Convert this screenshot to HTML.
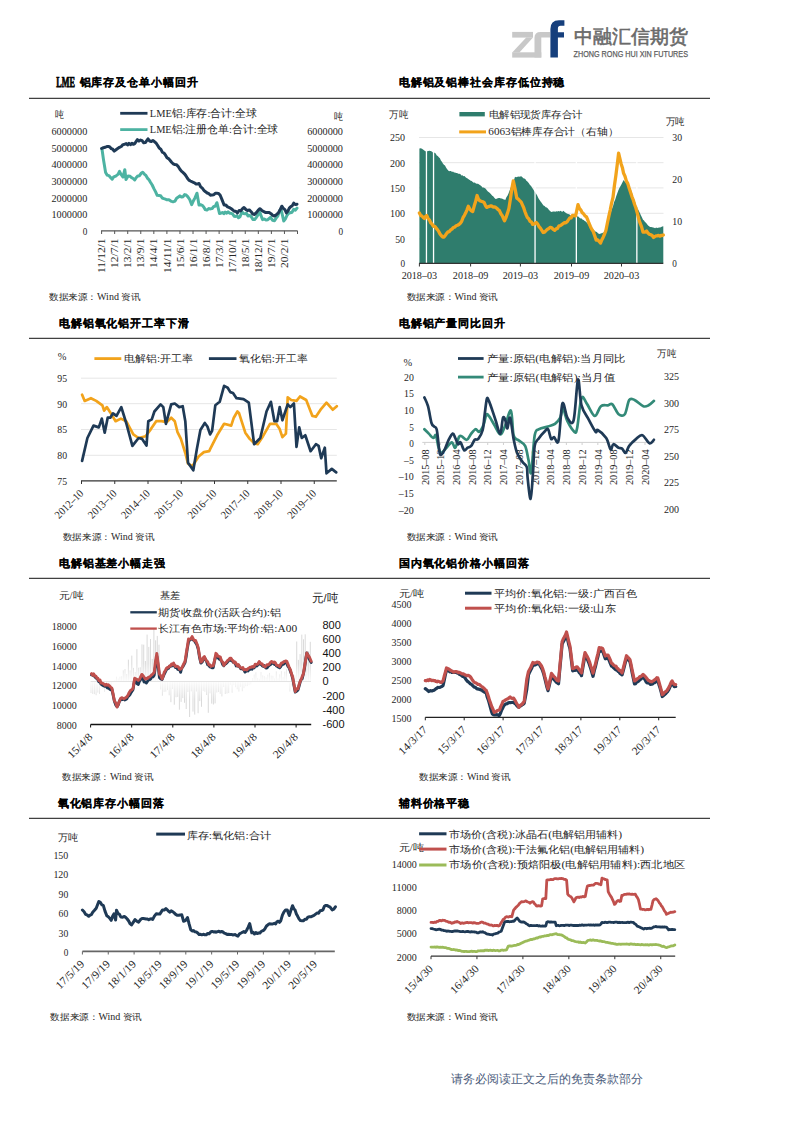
<!DOCTYPE html><html><head><meta charset="utf-8"><style>html,body{margin:0;padding:0;background:#fff;width:793px;height:1122px;overflow:hidden}svg{display:block}</style></head><body>
<svg width="793" height="1122" viewBox="0 0 793 1122">
<rect width="793" height="1122" fill="#fff"/>
<rect x="512.2" y="31.9" width="20.8" height="5.7" fill="#c8c8c8"/>
<path d="M526.2 37.4 L533 37.4 L519.4 52.5 L512.2 52.5 Z" fill="#c8c8c8"/>
<rect x="512.2" y="52.3" width="29.1" height="5.3" fill="#c8c8c8"/>
<path d="M534.5 57.6 V37.5 Q534.5 31.9 540.5 31.9 H550 V37.6 H541.3 V57.6 Z" fill="#c8c8c8"/>
<path d="M550.4 57.6 V29 Q550.4 20.2 559 20.2 H564.4 V25.8 H560.5 Q557.9 25.8 557.9 28.5 V32.3 H564 V37.6 H557.9 V57.6 Z" fill="#163f7c"/>
<text x="573.5" y="43.4" font-family="Liberation Sans, sans-serif" font-size="18.5" fill="#6a6a6a" stroke="#6a6a6a" stroke-width="0.6" textLength="114" lengthAdjust="spacingAndGlyphs">中融汇信期货</text>
<text x="573.5" y="56.9" font-family="Liberation Sans, sans-serif" font-size="8.8" fill="#5e5e5e" textLength="114.5" lengthAdjust="spacingAndGlyphs" stroke="#5e5e5e" stroke-width="0.25">ZHONG RONG HUI XIN FUTURES</text>
<line x1="29" y1="98.3" x2="710" y2="98.3" stroke="#404040" stroke-width="1.3"/>
<line x1="29" y1="338.4" x2="710" y2="338.4" stroke="#404040" stroke-width="1.3"/>
<line x1="29" y1="578.4" x2="710" y2="578.4" stroke="#404040" stroke-width="1.3"/>
<line x1="29" y1="818.4" x2="710" y2="818.4" stroke="#404040" stroke-width="1.3"/>
<text x="56.3" y="87.4" font-family="Liberation Serif, serif" font-size="14" fill="#000" textLength="18.6" lengthAdjust="spacingAndGlyphs" font-weight="bold" stroke="#000" stroke-width="0.75">LME</text>
<text x="79.5" y="86.4" font-family="Liberation Sans, sans-serif" font-size="11.3" font-weight="bold" fill="#000" stroke="#000" stroke-width="0.12" textLength="118.0" lengthAdjust="spacing">铝库存及仓单小幅回升</text>
<text x="64.0" y="117.9" font-family="Liberation Serif, serif" font-size="10" fill="#262626" text-anchor="end" textLength="9" lengthAdjust="spacingAndGlyphs">吨</text>
<text x="342.5" y="120.3" font-family="Liberation Serif, serif" font-size="10" fill="#262626" text-anchor="end" textLength="9" lengthAdjust="spacingAndGlyphs">吨</text>
<text x="87.3" y="134.8" font-family="Liberation Serif, serif" font-size="11.13" fill="#262626" text-anchor="end" textLength="35.8" lengthAdjust="spacingAndGlyphs">6000000</text>
<text x="343.0" y="134.8" font-family="Liberation Serif, serif" font-size="11.13" fill="#262626" text-anchor="end" textLength="35.8" lengthAdjust="spacingAndGlyphs">6000000</text>
<text x="87.3" y="151.5" font-family="Liberation Serif, serif" font-size="11.13" fill="#262626" text-anchor="end" textLength="35.8" lengthAdjust="spacingAndGlyphs">5000000</text>
<text x="343.0" y="151.5" font-family="Liberation Serif, serif" font-size="11.13" fill="#262626" text-anchor="end" textLength="35.8" lengthAdjust="spacingAndGlyphs">5000000</text>
<text x="87.3" y="168.1" font-family="Liberation Serif, serif" font-size="11.13" fill="#262626" text-anchor="end" textLength="35.8" lengthAdjust="spacingAndGlyphs">4000000</text>
<text x="343.0" y="168.1" font-family="Liberation Serif, serif" font-size="11.13" fill="#262626" text-anchor="end" textLength="35.8" lengthAdjust="spacingAndGlyphs">4000000</text>
<text x="87.3" y="184.8" font-family="Liberation Serif, serif" font-size="11.13" fill="#262626" text-anchor="end" textLength="35.8" lengthAdjust="spacingAndGlyphs">3000000</text>
<text x="343.0" y="184.8" font-family="Liberation Serif, serif" font-size="11.13" fill="#262626" text-anchor="end" textLength="35.8" lengthAdjust="spacingAndGlyphs">3000000</text>
<text x="87.3" y="201.5" font-family="Liberation Serif, serif" font-size="11.13" fill="#262626" text-anchor="end" textLength="35.8" lengthAdjust="spacingAndGlyphs">2000000</text>
<text x="343.0" y="201.5" font-family="Liberation Serif, serif" font-size="11.13" fill="#262626" text-anchor="end" textLength="35.8" lengthAdjust="spacingAndGlyphs">2000000</text>
<text x="87.3" y="218.1" font-family="Liberation Serif, serif" font-size="11.13" fill="#262626" text-anchor="end" textLength="35.8" lengthAdjust="spacingAndGlyphs">1000000</text>
<text x="343.0" y="218.1" font-family="Liberation Serif, serif" font-size="11.13" fill="#262626" text-anchor="end" textLength="35.8" lengthAdjust="spacingAndGlyphs">1000000</text>
<text x="87.3" y="234.8" font-family="Liberation Serif, serif" font-size="11.13" fill="#262626" text-anchor="end" textLength="4.6" lengthAdjust="spacingAndGlyphs">0</text>
<text x="343.0" y="234.8" font-family="Liberation Serif, serif" font-size="11.13" fill="#262626" text-anchor="end" textLength="4.6" lengthAdjust="spacingAndGlyphs">0</text>
<line x1="120.2" y1="113.3" x2="147.5" y2="113.3" stroke="#1f3a56" stroke-width="2.8"/>
<line x1="120.2" y1="129.6" x2="147.5" y2="129.6" stroke="#4db3a2" stroke-width="2.8"/>
<text x="149.8" y="117.0" font-family="Liberation Serif, serif" font-size="10.5" fill="#262626" textLength="107" lengthAdjust="spacingAndGlyphs">LME铝:库存:合计:全球</text>
<text x="149.8" y="133.2" font-family="Liberation Serif, serif" font-size="10.5" fill="#262626" textLength="128.5" lengthAdjust="spacingAndGlyphs">LME铝:注册仓单:合计:全球</text>
<line x1="101.1" y1="230.8" x2="297.5" y2="230.8" stroke="#555" stroke-width="1.3"/>
<line x1="101.6" y1="230.8" x2="101.6" y2="234" stroke="#555" stroke-width="1"/>
<line x1="114.66" y1="230.8" x2="114.66" y2="234" stroke="#555" stroke-width="1"/>
<line x1="127.72" y1="230.8" x2="127.72" y2="234" stroke="#555" stroke-width="1"/>
<line x1="140.78" y1="230.8" x2="140.78" y2="234" stroke="#555" stroke-width="1"/>
<line x1="153.84" y1="230.8" x2="153.84" y2="234" stroke="#555" stroke-width="1"/>
<line x1="166.89999999999998" y1="230.8" x2="166.89999999999998" y2="234" stroke="#555" stroke-width="1"/>
<line x1="179.95999999999998" y1="230.8" x2="179.95999999999998" y2="234" stroke="#555" stroke-width="1"/>
<line x1="193.01999999999998" y1="230.8" x2="193.01999999999998" y2="234" stroke="#555" stroke-width="1"/>
<line x1="206.07999999999998" y1="230.8" x2="206.07999999999998" y2="234" stroke="#555" stroke-width="1"/>
<line x1="219.14" y1="230.8" x2="219.14" y2="234" stroke="#555" stroke-width="1"/>
<line x1="232.2" y1="230.8" x2="232.2" y2="234" stroke="#555" stroke-width="1"/>
<line x1="245.26" y1="230.8" x2="245.26" y2="234" stroke="#555" stroke-width="1"/>
<line x1="258.32" y1="230.8" x2="258.32" y2="234" stroke="#555" stroke-width="1"/>
<line x1="271.38" y1="230.8" x2="271.38" y2="234" stroke="#555" stroke-width="1"/>
<line x1="284.44" y1="230.8" x2="284.44" y2="234" stroke="#555" stroke-width="1"/>
<line x1="297.5" y1="230.8" x2="297.5" y2="234" stroke="#555" stroke-width="1"/>
<text x="101.6" y="238.5" font-family="Liberation Serif, serif" font-size="10.70" fill="#262626" text-anchor="end" textLength="34.4" lengthAdjust="spacingAndGlyphs" transform="rotate(-90 101.6 238.5) translate(0 3.64)">11/12/1</text>
<text x="114.7" y="238.5" font-family="Liberation Serif, serif" font-size="10.70" fill="#262626" text-anchor="end" textLength="29.4" lengthAdjust="spacingAndGlyphs" transform="rotate(-90 114.7 238.5) translate(0 3.64)">12/7/1</text>
<text x="127.7" y="238.5" font-family="Liberation Serif, serif" font-size="10.70" fill="#262626" text-anchor="end" textLength="29.4" lengthAdjust="spacingAndGlyphs" transform="rotate(-90 127.7 238.5) translate(0 3.64)">13/2/1</text>
<text x="140.8" y="238.5" font-family="Liberation Serif, serif" font-size="10.70" fill="#262626" text-anchor="end" textLength="29.4" lengthAdjust="spacingAndGlyphs" transform="rotate(-90 140.8 238.5) translate(0 3.64)">13/9/1</text>
<text x="153.8" y="238.5" font-family="Liberation Serif, serif" font-size="10.70" fill="#262626" text-anchor="end" textLength="29.4" lengthAdjust="spacingAndGlyphs" transform="rotate(-90 153.8 238.5) translate(0 3.64)">14/4/1</text>
<text x="166.9" y="238.5" font-family="Liberation Serif, serif" font-size="10.70" fill="#262626" text-anchor="end" textLength="34.4" lengthAdjust="spacingAndGlyphs" transform="rotate(-90 166.9 238.5) translate(0 3.64)">14/11/1</text>
<text x="180.0" y="238.5" font-family="Liberation Serif, serif" font-size="10.70" fill="#262626" text-anchor="end" textLength="29.4" lengthAdjust="spacingAndGlyphs" transform="rotate(-90 180.0 238.5) translate(0 3.64)">15/6/1</text>
<text x="193.0" y="238.5" font-family="Liberation Serif, serif" font-size="10.70" fill="#262626" text-anchor="end" textLength="29.4" lengthAdjust="spacingAndGlyphs" transform="rotate(-90 193.0 238.5) translate(0 3.64)">16/1/1</text>
<text x="206.1" y="238.5" font-family="Liberation Serif, serif" font-size="10.70" fill="#262626" text-anchor="end" textLength="29.4" lengthAdjust="spacingAndGlyphs" transform="rotate(-90 206.1 238.5) translate(0 3.64)">16/8/1</text>
<text x="219.1" y="238.5" font-family="Liberation Serif, serif" font-size="10.70" fill="#262626" text-anchor="end" textLength="29.4" lengthAdjust="spacingAndGlyphs" transform="rotate(-90 219.1 238.5) translate(0 3.64)">17/3/1</text>
<text x="232.2" y="238.5" font-family="Liberation Serif, serif" font-size="10.70" fill="#262626" text-anchor="end" textLength="34.4" lengthAdjust="spacingAndGlyphs" transform="rotate(-90 232.2 238.5) translate(0 3.64)">17/10/1</text>
<text x="245.3" y="238.5" font-family="Liberation Serif, serif" font-size="10.70" fill="#262626" text-anchor="end" textLength="29.4" lengthAdjust="spacingAndGlyphs" transform="rotate(-90 245.3 238.5) translate(0 3.64)">18/5/1</text>
<text x="258.3" y="238.5" font-family="Liberation Serif, serif" font-size="10.70" fill="#262626" text-anchor="end" textLength="34.4" lengthAdjust="spacingAndGlyphs" transform="rotate(-90 258.3 238.5) translate(0 3.64)">18/12/1</text>
<text x="271.4" y="238.5" font-family="Liberation Serif, serif" font-size="10.70" fill="#262626" text-anchor="end" textLength="29.4" lengthAdjust="spacingAndGlyphs" transform="rotate(-90 271.4 238.5) translate(0 3.64)">19/7/1</text>
<text x="284.4" y="238.5" font-family="Liberation Serif, serif" font-size="10.70" fill="#262626" text-anchor="end" textLength="29.4" lengthAdjust="spacingAndGlyphs" transform="rotate(-90 284.4 238.5) translate(0 3.64)">20/2/1</text>
<polyline points="101.9,148.5 103.6,160.4 105.6,172.5 107.2,175.1 108.9,175.6 110.5,177.4 112.2,179.2 113.7,176.9 115.1,176.4 116.6,175.4 118.0,174.4 119.5,171.4 121.2,174.7 123.0,177.0 124.8,169.7 126.0,179.5 128.1,175.9 130.1,176.2 131.6,177.7 133.2,178.5 134.7,180.0 136.3,177.5 137.9,175.9 139.5,175.7 141.1,173.3 142.7,172.3 144.3,174.1 145.9,175.4 147.4,178.1 149.0,179.8 150.6,182.5 152.2,185.0 153.9,188.6 155.5,191.6 157.2,195.3 158.9,195.4 160.6,195.7 162.2,198.0 163.9,198.7 165.4,199.2 167.0,199.8 168.5,199.7 170.0,200.4 171.6,201.4 173.1,201.8 174.9,201.2 176.6,198.2 178.4,197.0 179.9,195.8 181.5,197.1 183.1,196.7 184.6,194.6 186.1,195.0 187.7,196.6 189.7,199.5 191.7,204.7 193.3,201.0 195.0,197.9 197.0,193.2 199.0,204.9 200.6,204.7 202.2,205.3 203.7,207.0 205.3,209.6 206.9,210.1 208.7,208.6 210.4,208.9 212.2,208.5 213.8,206.4 215.3,206.2 216.9,202.7 219.5,213.5 220.9,213.2 222.4,212.5 223.8,213.7 225.2,212.1 226.7,213.2 228.1,211.9 229.6,213.2 231.1,213.3 232.6,214.0 234.1,216.2 235.5,216.4 237.0,215.8 238.5,217.7 240.0,216.7 242.0,211.8 243.5,213.6 245.0,213.8 246.5,213.2 248.0,216.0 249.7,215.4 251.3,216.8 252.9,219.4 254.6,219.6 256.4,217.3 258.1,214.6 259.9,212.4 262.5,219.6 264.3,219.0 266.0,220.0 267.8,219.7 270.5,217.3 272.5,220.2 274.5,220.7 276.1,218.1 277.8,216.0 279.4,211.5 281.0,208.7 283.7,221.0 285.4,218.8 287.0,215.4 288.7,213.3 290.4,212.7 292.0,212.2 293.7,209.4 295.4,210.2 297.0,208.1" fill="none" stroke="#4db3a2" stroke-width="3.0" stroke-linejoin="round" stroke-linecap="round"/>
<polyline points="101.6,148.5 103.4,147.7 105.1,147.3 106.9,146.5 108.4,146.4 109.8,147.0 111.3,148.6 112.7,149.2 114.2,151.1 116.0,149.7 117.7,148.5 119.5,147.3 121.3,146.5 123.0,144.6 124.8,144.2 126.2,143.6 127.6,144.9 129.0,143.3 130.5,144.6 131.9,143.2 133.3,144.3 134.7,143.6 137.4,139.7 139.0,141.1 140.6,140.1 142.1,140.7 143.7,142.8 145.3,142.6 148.0,138.8 149.7,141.0 151.3,141.5 152.9,140.6 154.6,141.8 156.2,143.2 157.7,145.5 159.2,148.1 160.8,149.2 162.3,152.2 163.9,153.0 165.4,154.9 167.0,157.7 168.5,158.6 170.0,160.3 171.6,162.3 173.1,163.8 174.9,164.5 176.6,164.7 178.4,166.8 179.9,169.2 181.4,171.1 182.9,172.4 184.4,173.8 185.9,175.7 187.4,178.2 188.9,180.1 190.4,181.0 191.8,181.7 193.3,182.3 194.7,183.0 196.1,184.0 197.6,183.9 199.0,183.5 200.7,186.9 202.3,188.2 203.9,190.3 205.6,191.8 207.2,193.0 208.9,193.7 210.5,195.3 212.2,194.9 213.8,194.8 215.3,193.2 216.9,193.3 218.6,193.4 220.2,195.2 222.1,199.9 224.1,205.0 225.9,205.1 227.6,206.9 229.4,207.6 231.0,208.5 232.6,209.7 234.2,211.3 235.8,211.3 237.4,212.9 239.1,210.5 240.7,210.9 242.3,208.9 244.0,207.5 245.8,209.4 247.5,210.6 249.3,209.9 251.1,211.7 252.8,214.0 254.6,214.5 256.4,212.6 258.1,210.4 259.9,208.7 261.9,210.4 263.9,211.7 265.7,212.6 267.4,212.5 269.2,212.5 271.0,213.7 272.7,215.3 274.5,216.0 276.4,214.7 278.4,212.9 280.1,209.8 281.8,206.2 283.3,208.4 284.9,209.7 286.4,212.9 287.9,211.1 289.3,208.1 290.8,206.6 292.2,205.9 293.7,203.1 295.4,204.6 297.0,204.2" fill="none" stroke="#1f3a56" stroke-width="3.0" stroke-linejoin="round" stroke-linecap="round"/>
<text x="49.1" y="299.9" font-family="Liberation Serif, serif" font-size="9.4" fill="#262626" textLength="91.5" lengthAdjust="spacingAndGlyphs">数据来源：Wind 资讯</text>
<text x="398.8" y="86.4" font-family="Liberation Sans, sans-serif" font-size="11.3" font-weight="bold" fill="#000" stroke="#000" stroke-width="0.12" textLength="165.6" lengthAdjust="spacing">电解铝及铝棒社会库存低位持稳</text>
<text x="408.3" y="118.3" font-family="Liberation Serif, serif" font-size="10" fill="#262626" text-anchor="end" textLength="19" lengthAdjust="spacingAndGlyphs">万吨</text>
<text x="684.9" y="125.1" font-family="Liberation Serif, serif" font-size="10" fill="#262626" text-anchor="end" textLength="19" lengthAdjust="spacingAndGlyphs">万吨</text>
<text x="405.0" y="141.3" font-family="Liberation Serif, serif" font-size="11.13" fill="#262626" text-anchor="end" textLength="15.0" lengthAdjust="spacingAndGlyphs">250</text>
<line x1="419" y1="137.5" x2="663.5" y2="137.5" stroke="#e6e6e6" stroke-width="1"/>
<text x="405.0" y="166.5" font-family="Liberation Serif, serif" font-size="11.13" fill="#262626" text-anchor="end" textLength="15.0" lengthAdjust="spacingAndGlyphs">200</text>
<line x1="419" y1="162.7" x2="663.5" y2="162.7" stroke="#e6e6e6" stroke-width="1"/>
<text x="405.0" y="191.7" font-family="Liberation Serif, serif" font-size="11.13" fill="#262626" text-anchor="end" textLength="15.0" lengthAdjust="spacingAndGlyphs">150</text>
<line x1="419" y1="187.9" x2="663.5" y2="187.9" stroke="#e6e6e6" stroke-width="1"/>
<text x="405.0" y="217.1" font-family="Liberation Serif, serif" font-size="11.13" fill="#262626" text-anchor="end" textLength="15.0" lengthAdjust="spacingAndGlyphs">100</text>
<line x1="419" y1="213.3" x2="663.5" y2="213.3" stroke="#e6e6e6" stroke-width="1"/>
<text x="405.0" y="242.7" font-family="Liberation Serif, serif" font-size="11.13" fill="#262626" text-anchor="end" textLength="9.8" lengthAdjust="spacingAndGlyphs">50</text>
<line x1="419" y1="238.9" x2="663.5" y2="238.9" stroke="#e6e6e6" stroke-width="1"/>
<text x="405.0" y="267.1" font-family="Liberation Serif, serif" font-size="11.13" fill="#262626" text-anchor="end" textLength="4.6" lengthAdjust="spacingAndGlyphs">0</text>
<text x="672.3" y="141.4" font-family="Liberation Serif, serif" font-size="11.13" fill="#262626" textLength="9.8" lengthAdjust="spacingAndGlyphs">30</text>
<text x="672.3" y="183.3" font-family="Liberation Serif, serif" font-size="11.13" fill="#262626" textLength="9.8" lengthAdjust="spacingAndGlyphs">20</text>
<text x="672.3" y="225.2" font-family="Liberation Serif, serif" font-size="11.13" fill="#262626" textLength="9.8" lengthAdjust="spacingAndGlyphs">10</text>
<text x="672.3" y="267.1" font-family="Liberation Serif, serif" font-size="11.13" fill="#262626" textLength="4.6" lengthAdjust="spacingAndGlyphs">0</text>
<path d="M419.4 263.3 L419.4 148.5 L420.7 148.2 L422.0 148.7 L423.0 149.5 L424.0 150.3 L425.0 150.9 L426.1 151.4 L427.2 151.3 L428.3 150.9 L429.4 150.8 L430.6 151.1 L431.8 151.5 L433.0 152.5 L434.7 152.7 L435.7 153.4 L436.8 155.4 L437.8 156.0 L438.8 157.3 L439.9 158.3 L440.9 160.5 L441.9 161.8 L442.9 163.4 L443.9 164.7 L445.0 165.6 L446.0 167.4 L447.0 169.1 L448.0 170.2 L449.0 171.3 L450.0 171.0 L451.0 171.0 L452.0 171.9 L453.0 171.5 L454.0 172.6 L455.0 172.4 L456.1 172.9 L457.1 173.1 L458.2 173.7 L459.2 173.8 L460.3 174.1 L461.4 175.4 L462.4 175.2 L463.5 176.2 L464.5 176.1 L465.6 177.3 L466.6 177.9 L467.6 178.5 L468.6 179.3 L469.7 179.9 L470.7 180.7 L471.7 180.9 L472.7 182.0 L473.8 182.7 L474.8 182.4 L475.9 183.5 L476.9 183.8 L478.0 183.7 L479.1 184.4 L480.2 185.3 L481.3 186.0 L482.4 187.4 L483.5 187.6 L484.6 188.0 L485.7 188.8 L486.8 190.2 L487.9 191.6 L489.0 192.2 L490.1 193.3 L491.2 194.5 L492.3 195.8 L493.4 196.4 L494.5 197.9 L495.6 199.0 L496.7 198.8 L497.7 198.2 L498.8 198.0 L499.8 198.0 L500.9 198.4 L502.0 198.4 L503.1 199.2 L504.2 199.5 L505.3 199.9 L506.4 197.3 L507.6 195.5 L508.7 192.9 L509.8 189.9 L510.8 187.5 L511.9 184.9 L512.9 182.5 L514.0 179.9 L515.0 176.7 L516.0 177.2 L517.1 177.1 L518.1 176.6 L519.1 176.8 L520.2 176.4 L521.2 176.2 L522.2 176.9 L523.3 178.3 L524.3 178.4 L525.3 179.1 L526.4 180.7 L527.4 181.5 L528.7 182.9 L530.0 185.0 L531.1 185.9 L532.1 187.7 L533.2 189.3 L534.2 191.0 L535.3 192.4 L536.3 193.9 L537.3 195.8 L538.3 198.0 L539.4 199.8 L540.4 201.2 L541.4 202.5 L542.4 204.0 L543.5 205.6 L544.6 206.1 L545.7 207.2 L546.8 207.4 L547.9 208.5 L549.0 210.1 L550.1 211.0 L551.2 212.0 L552.2 211.7 L553.2 211.5 L554.3 211.6 L555.3 211.8 L556.3 211.2 L557.4 211.4 L558.4 211.1 L559.4 211.6 L560.4 210.8 L561.5 211.5 L562.5 211.7 L563.5 210.7 L564.6 212.0 L565.7 212.7 L566.8 213.5 L568.0 213.9 L569.1 214.3 L570.2 215.1 L571.3 216.3 L572.4 216.9 L573.5 216.1 L574.5 216.1 L575.6 216.1 L576.6 216.0 L577.7 216.4 L578.7 216.8 L579.7 218.1 L580.7 218.5 L581.7 218.6 L582.7 219.7 L583.7 220.1 L584.7 220.9 L585.7 221.6 L586.7 222.6 L587.7 223.6 L588.8 224.8 L589.8 226.2 L590.8 227.0 L591.8 227.5 L592.8 229.1 L593.8 230.1 L594.8 230.9 L595.9 231.8 L596.9 231.9 L597.9 233.3 L598.9 233.8 L600.0 234.1 L601.0 233.2 L602.1 233.3 L603.1 232.5 L604.2 232.6 L605.2 229.2 L606.2 225.9 L607.2 223.2 L608.2 220.1 L609.2 217.7 L610.2 214.0 L611.2 211.2 L612.2 208.2 L613.2 205.6 L614.2 201.7 L615.3 199.2 L616.3 196.1 L617.3 193.3 L618.3 190.5 L619.4 187.9 L620.4 186.3 L621.5 184.2 L622.5 182.3 L623.6 179.9 L624.7 181.5 L625.7 182.5 L626.8 182.8 L627.8 183.6 L628.9 185.2 L629.9 187.1 L630.9 189.8 L631.9 192.6 L632.9 196.2 L633.9 198.9 L634.9 201.4 L635.9 204.3 L636.9 206.0 L637.9 208.9 L638.9 210.9 L640.0 213.2 L641.0 215.4 L642.0 217.6 L643.0 219.7 L644.0 220.6 L645.0 222.0 L646.0 222.8 L647.1 224.3 L648.1 225.4 L649.1 226.3 L650.1 227.1 L651.1 227.0 L652.1 227.2 L653.1 227.5 L654.1 227.7 L655.1 228.2 L656.1 227.5 L657.1 228.0 L658.1 227.7 L659.2 227.6 L660.2 227.5 L661.2 227.1 L662.3 226.6 L663.3 226.2 L663.3 263.3 Z" fill="#2f7d6d"/>
<rect x="425.8" y="140" width="1.3" height="123" fill="#fff"/>
<rect x="432.9" y="140" width="1.3" height="123" fill="#fff"/>
<rect x="534.4" y="140" width="1.3" height="123" fill="#fff"/>
<rect x="575.7" y="140" width="1.3" height="123" fill="#fff"/>
<rect x="636.2" y="140" width="1.3" height="123" fill="#fff"/>
<polyline points="419.4,213.0 420.7,215.5 421.9,216.0 423.2,217.5 424.4,218.4 425.6,216.4 426.8,215.6 428.1,218.5 429.5,220.1 430.8,223.0 432.1,224.1 433.4,226.3 434.8,226.4 436.1,228.0 437.4,229.6 438.7,231.4 440.0,234.0 441.4,235.8 442.7,237.0 444.0,237.0 445.4,235.2 446.7,233.4 448.0,231.9 449.3,231.6 450.6,229.9 452.0,229.1 453.3,227.5 454.7,227.1 456.1,225.8 457.5,225.3 458.9,224.5 460.3,223.2 461.6,221.5 463.0,217.7 464.3,215.6 465.6,213.1 467.0,209.8 468.3,206.2 469.8,209.1 471.2,210.6 472.7,211.6 474.2,206.1 475.6,201.6 477.1,195.5 478.4,199.1 479.7,200.6 481.2,201.2 482.7,201.7 484.2,202.7 485.5,205.7 486.8,207.4 488.6,206.6 490.3,206.0 491.5,205.9 492.8,206.8 494.0,207.0 495.3,207.2 496.5,208.0 498.0,209.5 499.4,210.6 500.9,213.8 502.1,215.4 503.3,218.2 504.5,220.7 506.0,217.5 507.4,213.4 508.9,208.6 510.4,199.0 511.8,189.1 513.3,180.9 515.0,188.6 516.8,198.1 518.3,199.2 519.7,200.7 521.2,202.2 522.4,204.9 523.7,207.7 524.9,211.5 526.2,214.9 527.4,217.6 528.7,218.7 530.0,221.3 531.4,222.0 532.7,224.4 534.5,223.7 536.2,222.5 537.6,223.9 539.0,226.6 540.4,228.2 541.8,230.3 543.2,232.5 544.6,232.1 546.0,230.7 547.5,229.2 548.9,228.5 550.3,227.3 551.8,227.8 553.2,229.4 554.7,230.3 556.1,228.9 557.5,228.4 559.0,225.8 560.4,225.6 561.8,224.7 563.1,223.6 564.5,222.6 565.8,222.8 567.1,221.7 568.4,219.9 569.8,218.0 571.1,217.9 572.4,215.4 574.0,215.4 575.6,216.0 578.0,204.6 579.4,208.3 580.7,209.8 582.1,212.6 583.6,213.8 585.0,215.9 586.5,216.9 587.8,220.0 589.1,223.5 590.5,226.7 591.8,229.4 593.3,231.7 594.7,235.8 596.2,240.1 597.7,239.9 599.1,241.4 600.6,243.0 601.9,239.7 603.2,237.2 604.6,234.0 605.9,230.5 607.3,223.5 608.7,216.8 610.2,210.1 611.6,203.1 613.0,197.4 614.4,185.7 615.8,176.1 617.2,164.9 618.6,153.1 619.9,158.7 621.1,163.7 622.4,167.7 623.6,173.3 625.0,176.2 626.4,181.1 627.8,183.6 629.2,188.3 630.6,192.6 631.9,196.6 633.2,199.8 634.6,204.5 635.9,208.0 637.3,213.1 638.7,218.7 640.2,223.4 641.6,226.9 643.0,232.2 644.8,232.2 646.5,231.0 647.9,233.0 649.3,234.2 650.8,234.8 652.2,235.5 653.6,237.4 654.8,236.6 656.0,235.9 657.2,235.8 658.5,235.4 659.7,236.2 660.9,235.5 662.1,235.5 663.3,235.0" fill="none" stroke="#f2a31b" stroke-width="3.3" stroke-linejoin="round" stroke-linecap="round"/>
<line x1="419" y1="263.3" x2="663.3" y2="263.3" stroke="#333" stroke-width="1.2"/>
<line x1="419.4" y1="263.3" x2="419.4" y2="266.5" stroke="#333" stroke-width="1"/>
<text x="419.4" y="278.7" font-family="Liberation Serif, serif" font-size="11.02" fill="#262626" text-anchor="middle" textLength="35.5" lengthAdjust="spacingAndGlyphs">2018–03</text>
<line x1="470.6" y1="263.3" x2="470.6" y2="266.5" stroke="#333" stroke-width="1"/>
<text x="470.6" y="278.7" font-family="Liberation Serif, serif" font-size="11.02" fill="#262626" text-anchor="middle" textLength="35.5" lengthAdjust="spacingAndGlyphs">2018–09</text>
<line x1="520.4" y1="263.3" x2="520.4" y2="266.5" stroke="#333" stroke-width="1"/>
<text x="520.4" y="278.7" font-family="Liberation Serif, serif" font-size="11.02" fill="#262626" text-anchor="middle" textLength="35.5" lengthAdjust="spacingAndGlyphs">2019–03</text>
<line x1="571.5" y1="263.3" x2="571.5" y2="266.5" stroke="#333" stroke-width="1"/>
<text x="571.5" y="278.7" font-family="Liberation Serif, serif" font-size="11.02" fill="#262626" text-anchor="middle" textLength="35.5" lengthAdjust="spacingAndGlyphs">2019–09</text>
<line x1="621.5" y1="263.3" x2="621.5" y2="266.5" stroke="#333" stroke-width="1"/>
<text x="621.5" y="278.7" font-family="Liberation Serif, serif" font-size="11.02" fill="#262626" text-anchor="middle" textLength="35.5" lengthAdjust="spacingAndGlyphs">2020–03</text>
<rect x="459.4" y="112" width="25.4" height="4.4" fill="#2f7d6d"/>
<text x="488.6" y="117.5" font-family="Liberation Serif, serif" font-size="10.4" fill="#262626" textLength="94.2" lengthAdjust="spacingAndGlyphs">电解铝现货库存合计</text>
<line x1="459.2" y1="131.9" x2="486" y2="131.9" stroke="#f2a31b" stroke-width="3"/>
<text x="488.3" y="135.3" font-family="Liberation Serif, serif" font-size="10.4" fill="#262626" textLength="130" lengthAdjust="spacingAndGlyphs">6063铝棒库存合计（右轴）</text>
<text x="406.6" y="300.0" font-family="Liberation Serif, serif" font-size="9.4" fill="#262626" textLength="91.5" lengthAdjust="spacingAndGlyphs">数据来源：Wind 资讯</text>
<text x="58.9" y="327.0" font-family="Liberation Sans, sans-serif" font-size="11.3" font-weight="bold" fill="#000" stroke="#000" stroke-width="0.12" textLength="129.9" lengthAdjust="spacing">电解铝氧化铝开工率下滑</text>
<text x="57.8" y="359.9" font-family="Liberation Serif, serif" font-size="10.4" fill="#262626">%</text>
<text x="67.1" y="382.0" font-family="Liberation Serif, serif" font-size="11.13" fill="#262626" text-anchor="end" textLength="9.8" lengthAdjust="spacingAndGlyphs">95</text>
<line x1="81" y1="378.2" x2="336.8" y2="378.2" stroke="#e6e6e6" stroke-width="1"/>
<text x="67.1" y="407.5" font-family="Liberation Serif, serif" font-size="11.13" fill="#262626" text-anchor="end" textLength="9.8" lengthAdjust="spacingAndGlyphs">90</text>
<line x1="81" y1="403.7" x2="336.8" y2="403.7" stroke="#e6e6e6" stroke-width="1"/>
<text x="67.1" y="433.3" font-family="Liberation Serif, serif" font-size="11.13" fill="#262626" text-anchor="end" textLength="9.8" lengthAdjust="spacingAndGlyphs">85</text>
<line x1="81" y1="429.5" x2="336.8" y2="429.5" stroke="#e6e6e6" stroke-width="1"/>
<text x="67.1" y="459.1" font-family="Liberation Serif, serif" font-size="11.13" fill="#262626" text-anchor="end" textLength="9.8" lengthAdjust="spacingAndGlyphs">80</text>
<line x1="81" y1="455.3" x2="336.8" y2="455.3" stroke="#e6e6e6" stroke-width="1"/>
<text x="67.1" y="484.7" font-family="Liberation Serif, serif" font-size="11.13" fill="#262626" text-anchor="end" textLength="9.8" lengthAdjust="spacingAndGlyphs">75</text>
<polyline points="82.1,394.7 84.7,400.9 90.9,398.2 96.2,400.9 102.4,405.3 104.1,410.6 106.8,407.1 110.3,412.4 115.6,421.2 120.9,418.6 126.2,421.2 133.3,434.4 138.6,438.0 145.6,436.2 150.9,429.1 156.2,421.2 161.5,421.2 166.8,422.1 171.2,417.7 174.8,421.2 177.4,431.8 180.9,438.9 185.3,453.0 188.0,463.6 192.4,466.2 198.6,456.5 203.9,452.1 209.2,451.2 210.0,449.4 217.1,435.3 224.1,423.8 231.2,425.6 233.8,417.7 237.4,411.5 239.1,413.3 245.3,432.7 249.7,438.9 253.3,442.4 257.7,444.2 263.0,436.2 270.0,423.8 276.2,423.8 279.7,429.1 282.4,437.1 285.9,433.6 287.7,397.4 291.2,400.0 296.5,400.9 300.0,396.5 306.2,400.0 312.4,415.9 315.9,416.8 321.2,408.8 326.5,402.7 332.7,409.7 336.8,406.2" fill="none" stroke="#f2a31b" stroke-width="2.7" stroke-linejoin="round" stroke-linecap="round"/>
<polyline points="82.1,460.9 87.4,438.0 93.5,425.6 98.8,427.4 101.8,418.6 104.7,432.7 107.7,417.7 110.3,417.7 113.0,413.3 116.5,415.9 121.3,407.1 126.2,423.0 132.4,445.9 138.6,438.0 142.1,438.9 146.5,445.6 148.3,421.2 151.8,419.4 154.4,411.5 160.6,404.4 163.3,407.1 165.9,423.8 171.2,404.4 174.8,403.5 179.2,407.1 182.7,406.2 185.3,421.2 188.0,462.7 193.3,470.3 196.8,449.4 200.4,430.0 204.8,423.0 207.4,426.5 210.1,434.4 212.1,430.9 215.3,405.3 219.7,401.8 224.1,385.9 227.7,387.7 230.3,392.1 233.0,393.0 236.5,398.2 243.5,399.1 248.8,402.7 254.1,444.2 260.3,438.0 266.5,411.5 270.9,401.8 274.4,421.2 277.1,421.2 279.7,407.1 282.4,420.3 287.7,404.4 290.3,407.1 293.9,403.5 296.5,446.8 299.2,427.4 301.8,438.0 305.3,435.3 310.6,451.2 315.9,444.2 318.6,445.9 321.2,458.3 324.8,447.7 326.5,473.3 331.8,468.9 336.2,472.4" fill="none" stroke="#1f3a56" stroke-width="2.7" stroke-linejoin="round" stroke-linecap="round"/>
<line x1="81" y1="480.9" x2="336.8" y2="480.9" stroke="#333" stroke-width="1.2"/>
<line x1="81.5" y1="480.9" x2="81.5" y2="484" stroke="#333" stroke-width="1"/>
<line x1="114.75" y1="480.9" x2="114.75" y2="484" stroke="#333" stroke-width="1"/>
<line x1="148.0" y1="480.9" x2="148.0" y2="484" stroke="#333" stroke-width="1"/>
<line x1="181.25" y1="480.9" x2="181.25" y2="484" stroke="#333" stroke-width="1"/>
<line x1="214.5" y1="480.9" x2="214.5" y2="484" stroke="#333" stroke-width="1"/>
<line x1="247.75" y1="480.9" x2="247.75" y2="484" stroke="#333" stroke-width="1"/>
<line x1="281.0" y1="480.9" x2="281.0" y2="484" stroke="#333" stroke-width="1"/>
<line x1="314.25" y1="480.9" x2="314.25" y2="484" stroke="#333" stroke-width="1"/>
<text x="81.5" y="491.4" font-family="Liberation Serif, serif" font-size="11.02" fill="#262626" text-anchor="end" textLength="35.5" lengthAdjust="spacingAndGlyphs" transform="rotate(-45 81.5 491.4) translate(0 3.75)">2012–10</text>
<text x="114.8" y="491.4" font-family="Liberation Serif, serif" font-size="11.02" fill="#262626" text-anchor="end" textLength="35.5" lengthAdjust="spacingAndGlyphs" transform="rotate(-45 114.8 491.4) translate(0 3.75)">2013–10</text>
<text x="148.0" y="491.4" font-family="Liberation Serif, serif" font-size="11.02" fill="#262626" text-anchor="end" textLength="35.5" lengthAdjust="spacingAndGlyphs" transform="rotate(-45 148.0 491.4) translate(0 3.75)">2014–10</text>
<text x="181.2" y="491.4" font-family="Liberation Serif, serif" font-size="11.02" fill="#262626" text-anchor="end" textLength="35.5" lengthAdjust="spacingAndGlyphs" transform="rotate(-45 181.2 491.4) translate(0 3.75)">2015–10</text>
<text x="214.5" y="491.4" font-family="Liberation Serif, serif" font-size="11.02" fill="#262626" text-anchor="end" textLength="35.5" lengthAdjust="spacingAndGlyphs" transform="rotate(-45 214.5 491.4) translate(0 3.75)">2016–10</text>
<text x="247.8" y="491.4" font-family="Liberation Serif, serif" font-size="11.02" fill="#262626" text-anchor="end" textLength="35.5" lengthAdjust="spacingAndGlyphs" transform="rotate(-45 247.8 491.4) translate(0 3.75)">2017–10</text>
<text x="281.0" y="491.4" font-family="Liberation Serif, serif" font-size="11.02" fill="#262626" text-anchor="end" textLength="35.5" lengthAdjust="spacingAndGlyphs" transform="rotate(-45 281.0 491.4) translate(0 3.75)">2018–10</text>
<text x="314.2" y="491.4" font-family="Liberation Serif, serif" font-size="11.02" fill="#262626" text-anchor="end" textLength="35.5" lengthAdjust="spacingAndGlyphs" transform="rotate(-45 314.2 491.4) translate(0 3.75)">2019–10</text>
<line x1="94.4" y1="358.6" x2="121.3" y2="358.6" stroke="#f2a31b" stroke-width="2.8"/>
<text x="124.2" y="362.1" font-family="Liberation Serif, serif" font-size="10.4" fill="#262626" textLength="68.8" lengthAdjust="spacingAndGlyphs">电解铝:开工率</text>
<line x1="208.9" y1="358.6" x2="236.5" y2="358.6" stroke="#1f3a56" stroke-width="2.8"/>
<text x="239.4" y="362.1" font-family="Liberation Serif, serif" font-size="10.4" fill="#262626" textLength="68.1" lengthAdjust="spacingAndGlyphs">氧化铝:开工率</text>
<text x="62.9" y="540.0" font-family="Liberation Serif, serif" font-size="9.4" fill="#262626" textLength="91.5" lengthAdjust="spacingAndGlyphs">数据来源：Wind 资讯</text>
<text x="398.8" y="327.0" font-family="Liberation Sans, sans-serif" font-size="11.3" font-weight="bold" fill="#000" stroke="#000" stroke-width="0.12" textLength="106.1" lengthAdjust="spacing">电解铝产量同比回升</text>
<text x="403.5" y="366.1" font-family="Liberation Serif, serif" font-size="10.4" fill="#262626">%</text>
<text x="413.8" y="380.8" font-family="Liberation Serif, serif" font-size="11.13" fill="#262626" text-anchor="end" textLength="9.8" lengthAdjust="spacingAndGlyphs">20</text>
<text x="413.8" y="397.4" font-family="Liberation Serif, serif" font-size="11.13" fill="#262626" text-anchor="end" textLength="9.8" lengthAdjust="spacingAndGlyphs">15</text>
<text x="413.8" y="414.0" font-family="Liberation Serif, serif" font-size="11.13" fill="#262626" text-anchor="end" textLength="9.8" lengthAdjust="spacingAndGlyphs">10</text>
<text x="413.8" y="430.6" font-family="Liberation Serif, serif" font-size="11.13" fill="#262626" text-anchor="end" textLength="4.6" lengthAdjust="spacingAndGlyphs">5</text>
<text x="413.8" y="447.2" font-family="Liberation Serif, serif" font-size="11.13" fill="#262626" text-anchor="end" textLength="4.6" lengthAdjust="spacingAndGlyphs">0</text>
<text x="413.8" y="463.8" font-family="Liberation Serif, serif" font-size="11.13" fill="#262626" text-anchor="end" textLength="9.8" lengthAdjust="spacingAndGlyphs">–5</text>
<text x="413.8" y="480.4" font-family="Liberation Serif, serif" font-size="11.13" fill="#262626" text-anchor="end" textLength="15.0" lengthAdjust="spacingAndGlyphs">–10</text>
<text x="413.8" y="497.0" font-family="Liberation Serif, serif" font-size="11.13" fill="#262626" text-anchor="end" textLength="15.0" lengthAdjust="spacingAndGlyphs">–15</text>
<text x="413.8" y="513.6" font-family="Liberation Serif, serif" font-size="11.13" fill="#262626" text-anchor="end" textLength="15.0" lengthAdjust="spacingAndGlyphs">–20</text>
<text x="664.0" y="380.3" font-family="Liberation Serif, serif" font-size="11.13" fill="#262626" textLength="15.0" lengthAdjust="spacingAndGlyphs">325</text>
<text x="664.0" y="406.8" font-family="Liberation Serif, serif" font-size="11.13" fill="#262626" textLength="15.0" lengthAdjust="spacingAndGlyphs">300</text>
<text x="664.0" y="433.3" font-family="Liberation Serif, serif" font-size="11.13" fill="#262626" textLength="15.0" lengthAdjust="spacingAndGlyphs">275</text>
<text x="664.0" y="459.8" font-family="Liberation Serif, serif" font-size="11.13" fill="#262626" textLength="15.0" lengthAdjust="spacingAndGlyphs">250</text>
<text x="664.0" y="486.3" font-family="Liberation Serif, serif" font-size="11.13" fill="#262626" textLength="15.0" lengthAdjust="spacingAndGlyphs">225</text>
<text x="664.0" y="512.8" font-family="Liberation Serif, serif" font-size="11.13" fill="#262626" textLength="15.0" lengthAdjust="spacingAndGlyphs">200</text>
<text x="676.0" y="357.0" font-family="Liberation Serif, serif" font-size="10" fill="#262626" text-anchor="end" textLength="19" lengthAdjust="spacingAndGlyphs">万吨</text>
<line x1="422.3" y1="442.4" x2="654.5" y2="442.4" stroke="#d0d0d0" stroke-width="1"/>
<line x1="424.8" y1="442.4" x2="424.8" y2="445" stroke="#d0d0d0" stroke-width="1"/>
<line x1="440.53000000000003" y1="442.4" x2="440.53000000000003" y2="445" stroke="#d0d0d0" stroke-width="1"/>
<line x1="456.26" y1="442.4" x2="456.26" y2="445" stroke="#d0d0d0" stroke-width="1"/>
<line x1="471.99" y1="442.4" x2="471.99" y2="445" stroke="#d0d0d0" stroke-width="1"/>
<line x1="487.72" y1="442.4" x2="487.72" y2="445" stroke="#d0d0d0" stroke-width="1"/>
<line x1="503.45000000000005" y1="442.4" x2="503.45000000000005" y2="445" stroke="#d0d0d0" stroke-width="1"/>
<line x1="519.1800000000001" y1="442.4" x2="519.1800000000001" y2="445" stroke="#d0d0d0" stroke-width="1"/>
<line x1="534.91" y1="442.4" x2="534.91" y2="445" stroke="#d0d0d0" stroke-width="1"/>
<line x1="550.64" y1="442.4" x2="550.64" y2="445" stroke="#d0d0d0" stroke-width="1"/>
<line x1="566.37" y1="442.4" x2="566.37" y2="445" stroke="#d0d0d0" stroke-width="1"/>
<line x1="582.1" y1="442.4" x2="582.1" y2="445" stroke="#d0d0d0" stroke-width="1"/>
<line x1="597.83" y1="442.4" x2="597.83" y2="445" stroke="#d0d0d0" stroke-width="1"/>
<line x1="613.56" y1="442.4" x2="613.56" y2="445" stroke="#d0d0d0" stroke-width="1"/>
<line x1="629.29" y1="442.4" x2="629.29" y2="445" stroke="#d0d0d0" stroke-width="1"/>
<line x1="645.02" y1="442.4" x2="645.02" y2="445" stroke="#d0d0d0" stroke-width="1"/>
<text x="424.8" y="449.5" font-family="Liberation Serif, serif" font-size="11.02" fill="#262626" text-anchor="end" textLength="35.5" lengthAdjust="spacingAndGlyphs" transform="rotate(-90 424.8 449.5) translate(0 3.75)">2015–08</text>
<text x="440.5" y="449.5" font-family="Liberation Serif, serif" font-size="11.02" fill="#262626" text-anchor="end" textLength="35.5" lengthAdjust="spacingAndGlyphs" transform="rotate(-90 440.5 449.5) translate(0 3.75)">2015–12</text>
<text x="456.3" y="449.5" font-family="Liberation Serif, serif" font-size="11.02" fill="#262626" text-anchor="end" textLength="35.5" lengthAdjust="spacingAndGlyphs" transform="rotate(-90 456.3 449.5) translate(0 3.75)">2016–04</text>
<text x="472.0" y="449.5" font-family="Liberation Serif, serif" font-size="11.02" fill="#262626" text-anchor="end" textLength="35.5" lengthAdjust="spacingAndGlyphs" transform="rotate(-90 472.0 449.5) translate(0 3.75)">2016–08</text>
<text x="487.7" y="449.5" font-family="Liberation Serif, serif" font-size="11.02" fill="#262626" text-anchor="end" textLength="35.5" lengthAdjust="spacingAndGlyphs" transform="rotate(-90 487.7 449.5) translate(0 3.75)">2016–12</text>
<text x="503.5" y="449.5" font-family="Liberation Serif, serif" font-size="11.02" fill="#262626" text-anchor="end" textLength="35.5" lengthAdjust="spacingAndGlyphs" transform="rotate(-90 503.5 449.5) translate(0 3.75)">2017–04</text>
<text x="519.2" y="449.5" font-family="Liberation Serif, serif" font-size="11.02" fill="#262626" text-anchor="end" textLength="35.5" lengthAdjust="spacingAndGlyphs" transform="rotate(-90 519.2 449.5) translate(0 3.75)">2017–08</text>
<text x="534.9" y="449.5" font-family="Liberation Serif, serif" font-size="11.02" fill="#262626" text-anchor="end" textLength="35.5" lengthAdjust="spacingAndGlyphs" transform="rotate(-90 534.9 449.5) translate(0 3.75)">2017–12</text>
<text x="550.6" y="449.5" font-family="Liberation Serif, serif" font-size="11.02" fill="#262626" text-anchor="end" textLength="35.5" lengthAdjust="spacingAndGlyphs" transform="rotate(-90 550.6 449.5) translate(0 3.75)">2018–04</text>
<text x="566.4" y="449.5" font-family="Liberation Serif, serif" font-size="11.02" fill="#262626" text-anchor="end" textLength="35.5" lengthAdjust="spacingAndGlyphs" transform="rotate(-90 566.4 449.5) translate(0 3.75)">2018–08</text>
<text x="582.1" y="449.5" font-family="Liberation Serif, serif" font-size="11.02" fill="#262626" text-anchor="end" textLength="35.5" lengthAdjust="spacingAndGlyphs" transform="rotate(-90 582.1 449.5) translate(0 3.75)">2018–12</text>
<text x="597.8" y="449.5" font-family="Liberation Serif, serif" font-size="11.02" fill="#262626" text-anchor="end" textLength="35.5" lengthAdjust="spacingAndGlyphs" transform="rotate(-90 597.8 449.5) translate(0 3.75)">2019–04</text>
<text x="613.6" y="449.5" font-family="Liberation Serif, serif" font-size="11.02" fill="#262626" text-anchor="end" textLength="35.5" lengthAdjust="spacingAndGlyphs" transform="rotate(-90 613.6 449.5) translate(0 3.75)">2019–08</text>
<text x="629.3" y="449.5" font-family="Liberation Serif, serif" font-size="11.02" fill="#262626" text-anchor="end" textLength="35.5" lengthAdjust="spacingAndGlyphs" transform="rotate(-90 629.3 449.5) translate(0 3.75)">2019–12</text>
<text x="645.0" y="449.5" font-family="Liberation Serif, serif" font-size="11.02" fill="#262626" text-anchor="end" textLength="35.5" lengthAdjust="spacingAndGlyphs" transform="rotate(-90 645.0 449.5) translate(0 3.75)">2020–04</text>
<path d="M424.4 429.2 C425.1 429.9 427.3 432.1 428.8 433.6 C430.3 435.1 432.1 437.7 433.3 438.0 C434.5 438.3 435.0 433.7 435.9 435.3 C436.8 436.9 437.7 444.8 438.6 447.7 C439.5 450.6 439.9 453.0 441.2 453.0 C442.5 453.0 444.7 449.5 446.5 447.7 C448.3 445.9 450.3 442.4 451.8 442.4 C453.3 442.4 454.1 448.6 455.3 447.7 C456.5 446.8 457.9 439.0 458.9 437.1 C459.9 435.2 460.2 435.8 461.5 436.2 C462.8 436.6 465.2 440.2 466.8 439.8 C468.4 439.4 469.7 435.4 471.2 433.6 C472.7 431.8 474.3 429.5 475.6 429.2 C476.9 428.9 477.9 432.6 479.2 431.8 C480.5 431.1 482.4 427.5 483.6 424.7 C484.8 421.9 485.3 416.5 486.2 415.0 C487.1 413.5 487.6 414.3 488.9 415.9 C490.2 417.5 492.3 421.6 494.2 424.7 C496.1 427.8 498.5 434.2 500.3 434.5 C502.1 434.8 503.0 430.5 504.8 426.5 C506.6 422.5 509.4 409.1 510.9 410.6 C512.4 412.1 512.3 430.3 513.6 435.3 C514.9 440.3 517.0 438.8 518.9 440.6 C520.8 442.4 523.5 442.7 525.1 445.9 C526.7 449.1 527.5 455.6 528.5 460.0 C529.5 464.4 530.2 476.5 531.2 472.4 C532.2 468.3 533.4 442.5 534.7 435.3 C536.0 428.1 536.9 430.7 539.1 429.2 C541.3 427.7 545.4 427.4 548.0 426.5 C550.6 425.6 553.0 425.4 555.0 423.9 C557.0 422.4 559.0 420.2 560.3 417.7 C561.6 415.2 561.8 408.3 563.0 408.9 C564.2 409.5 565.5 417.4 567.4 421.2 C569.3 425.0 572.8 430.6 574.4 431.8 C576.0 433.0 575.9 433.9 577.1 428.3 C578.3 422.7 579.9 402.4 581.5 398.3 C583.1 394.2 584.6 400.7 586.8 403.6 C589.0 406.5 592.4 415.5 594.7 415.9 C597.1 416.3 598.7 408.0 600.9 406.2 C603.1 404.4 606.1 405.6 608.0 405.3 C609.9 405.0 610.6 402.9 612.4 404.4 C614.2 405.9 616.5 412.6 618.6 414.2 C620.7 415.8 623.0 416.6 624.8 414.2 C626.6 411.8 627.6 402.4 629.2 400.0 C630.8 397.6 632.1 399.0 634.5 400.0 C636.9 401.0 640.9 405.3 643.3 406.2 C645.6 407.1 646.8 406.2 648.6 405.3 C650.4 404.4 653.0 401.6 653.9 400.9" fill="none" stroke="#338a78" stroke-width="2.7" stroke-linejoin="round" stroke-linecap="round"/>
<path d="M424.4 397.4 C425.0 398.9 426.8 401.9 428.0 406.2 C429.2 410.5 430.5 419.6 431.5 423.0 C432.5 426.4 433.2 425.3 434.1 426.5 C435.0 427.7 435.9 425.9 436.8 430.0 C437.7 434.1 438.7 447.1 439.4 451.2 C440.1 455.3 440.3 455.1 441.2 454.8 C442.1 454.5 443.5 451.9 444.7 449.5 C445.9 447.1 447.0 443.2 448.3 440.6 C449.6 438.0 451.5 434.0 452.7 433.6 C453.9 433.2 454.4 436.2 455.3 438.0 C456.2 439.8 457.1 443.5 458.0 444.2 C458.9 444.9 459.6 441.4 460.6 442.4 C461.6 443.4 463.0 449.4 464.2 450.3 C465.4 451.2 466.5 448.4 467.7 447.7 C468.9 447.0 470.0 447.2 471.2 445.9 C472.4 444.6 473.5 441.0 474.7 439.8 C475.9 438.6 477.0 440.5 478.3 438.9 C479.6 437.3 481.7 433.8 482.7 430.0 C483.7 426.2 483.8 421.0 484.5 415.9 C485.2 410.8 486.1 401.6 486.8 399.1 C487.5 396.6 488.0 399.0 488.9 400.9 C489.8 402.8 491.2 407.2 492.4 410.6 C493.6 414.0 494.6 417.4 495.9 421.2 C497.2 425.0 499.1 434.2 500.3 433.6 C501.5 433.0 502.1 419.8 503.0 417.7 C503.9 415.6 504.9 419.4 505.6 421.2 C506.3 423.0 506.6 428.9 507.4 428.3 C508.1 427.7 509.1 415.9 510.1 417.7 C511.1 419.5 512.4 433.0 513.6 438.9 C514.8 444.8 515.6 449.2 517.1 453.0 C518.6 456.8 520.8 459.4 522.4 461.8 C524.0 464.2 525.9 464.5 526.8 467.1 C527.7 469.8 527.0 472.4 527.6 477.7 C528.2 483.0 529.7 499.5 530.6 498.9 C531.5 498.3 532.2 483.0 532.9 474.2 C533.6 465.4 533.7 451.9 534.7 445.9 C535.7 439.9 537.5 440.4 539.1 438.0 C540.7 435.6 542.9 433.3 544.4 431.8 C545.9 430.3 546.9 428.0 548.0 429.2 C549.1 430.4 550.1 437.6 551.1 438.9 C552.1 440.2 552.9 436.8 554.1 437.1 C555.3 437.4 557.1 446.2 558.5 440.6 C559.9 435.0 560.9 407.4 562.4 403.6 C563.9 399.8 565.5 414.9 567.4 417.7 C569.3 420.5 571.8 426.6 573.6 420.3 C575.4 414.0 576.7 382.2 578.0 379.7 C579.3 377.2 579.7 398.7 581.5 405.3 C583.3 411.9 586.2 415.0 588.6 419.4 C591.0 423.8 594.1 430.0 595.6 431.8 C597.1 433.6 595.9 429.0 597.7 430.0 C599.5 431.0 604.1 434.8 606.2 438.0 C608.4 441.2 609.4 448.5 610.6 449.5 C611.8 450.5 612.0 444.5 613.3 444.2 C614.6 443.9 617.1 447.0 618.6 447.7 C620.1 448.4 620.9 447.7 622.1 448.6 C623.3 449.5 624.4 453.4 625.6 453.0 C626.8 452.6 627.4 448.2 629.2 445.9 C631.0 443.5 634.0 440.7 636.2 438.9 C638.4 437.1 640.2 434.6 642.4 435.3 C644.6 436.0 647.6 442.6 649.5 443.3 C651.4 444.1 653.2 440.4 653.9 439.8" fill="none" stroke="#1f3a56" stroke-width="2.7" stroke-linejoin="round" stroke-linecap="round"/>
<line x1="458" y1="358.5" x2="483.6" y2="358.5" stroke="#1f3a56" stroke-width="2.8"/>
<line x1="458" y1="377.1" x2="483.6" y2="377.1" stroke="#338a78" stroke-width="2.8"/>
<text x="486.8" y="362.0" font-family="Liberation Serif, serif" font-size="10.4" fill="#262626" textLength="138.8" lengthAdjust="spacingAndGlyphs">产量:原铝(电解铝):当月同比</text>
<text x="486.8" y="380.6" font-family="Liberation Serif, serif" font-size="10.4" fill="#262626" textLength="128.2" lengthAdjust="spacingAndGlyphs">产量:原铝(电解铝):当月值</text>
<text x="406.6" y="540.0" font-family="Liberation Serif, serif" font-size="9.4" fill="#262626" textLength="91.5" lengthAdjust="spacingAndGlyphs">数据来源：Wind 资讯</text>
<text x="58.9" y="567.0" font-family="Liberation Sans, sans-serif" font-size="11.3" font-weight="bold" fill="#000" stroke="#000" stroke-width="0.12" textLength="106.1" lengthAdjust="spacing">电解铝基差小幅走强</text>
<text x="58.8" y="599.0" font-family="Liberation Serif, serif" font-size="10.3" fill="#262626" textLength="24.7" lengthAdjust="spacingAndGlyphs">元/吨</text>
<text x="159.5" y="599.0" font-family="Liberation Serif, serif" font-size="10.3" fill="#262626" textLength="20.3" lengthAdjust="spacingAndGlyphs">基差</text>
<text x="76.8" y="630.0" font-family="Liberation Serif, serif" font-size="11.02" fill="#262626" text-anchor="end" textLength="25.1" lengthAdjust="spacingAndGlyphs">18000</text>
<text x="76.8" y="649.8" font-family="Liberation Serif, serif" font-size="11.02" fill="#262626" text-anchor="end" textLength="25.1" lengthAdjust="spacingAndGlyphs">16000</text>
<text x="76.8" y="669.6" font-family="Liberation Serif, serif" font-size="11.02" fill="#262626" text-anchor="end" textLength="25.1" lengthAdjust="spacingAndGlyphs">14000</text>
<text x="76.8" y="689.3" font-family="Liberation Serif, serif" font-size="11.02" fill="#262626" text-anchor="end" textLength="25.1" lengthAdjust="spacingAndGlyphs">12000</text>
<text x="76.8" y="709.1" font-family="Liberation Serif, serif" font-size="11.02" fill="#262626" text-anchor="end" textLength="25.1" lengthAdjust="spacingAndGlyphs">10000</text>
<text x="76.8" y="728.8" font-family="Liberation Serif, serif" font-size="11.02" fill="#262626" text-anchor="end" textLength="20.0" lengthAdjust="spacingAndGlyphs">8000</text>
<text x="322.5" y="629.0" font-family="Liberation Sans, sans-serif" font-size="11" fill="#111">800</text>
<text x="322.5" y="643.1" font-family="Liberation Sans, sans-serif" font-size="11" fill="#111">600</text>
<text x="322.5" y="657.2" font-family="Liberation Sans, sans-serif" font-size="11" fill="#111">400</text>
<text x="322.5" y="671.3" font-family="Liberation Sans, sans-serif" font-size="11" fill="#111">200</text>
<text x="322.5" y="685.4" font-family="Liberation Sans, sans-serif" font-size="11" fill="#111">0</text>
<text x="322.5" y="699.5" font-family="Liberation Sans, sans-serif" font-size="11" fill="#111">-200</text>
<text x="322.5" y="713.6" font-family="Liberation Sans, sans-serif" font-size="11" fill="#111">-400</text>
<text x="322.5" y="727.7" font-family="Liberation Sans, sans-serif" font-size="11" fill="#111">-600</text>
<text x="312.1" y="602.4" font-family="Liberation Sans, sans-serif" font-size="11.5" fill="#222" textLength="26.1" lengthAdjust="spacingAndGlyphs">元/吨</text>
<path d="M91.0 681.5 V693.0 M92.7 681.5 V693.9 M94.4 681.5 V694.1 M96.1 681.5 V695.2 M97.8 681.5 V692.6 M99.5 681.5 V693.9 M101.2 681.5 V684.9 M102.9 681.5 V688.7 M104.6 681.5 V691.8 M106.3 681.5 V688.4 M108.0 681.5 V689.0 M109.7 681.5 V683.8 M111.4 681.5 V684.8 M113.1 681.5 V682.4 M114.8 681.5 V679.9 M116.5 681.5 V676.7 M118.2 681.5 V678.6 M119.9 681.5 V676.8 M121.6 681.5 V676.2 M123.3 681.5 V670.4 M125.0 681.5 V669.0 M126.7 681.5 V674.0 M128.4 681.5 V659.7 M130.1 681.5 V670.5 M131.8 681.5 V655.6 M133.5 681.5 V667.9 M135.2 681.5 V672.0 M136.9 681.5 V649.2 M138.6 681.5 V667.7 M140.3 681.5 V667.3 M142.0 681.5 V644.4 M143.7 681.5 V644.7 M145.4 681.5 V661.0 M147.1 681.5 V634.6 M148.8 681.5 V646.9 M150.5 681.5 V639.0 M152.2 681.5 V658.9 M153.9 681.5 V628.0 M155.6 681.5 V640.3 M157.3 681.5 V635.9 M159.0 681.5 V644.7 M160.7 681.5 V689.5 M162.4 681.5 V695.7 M164.1 681.5 V691.9 M165.8 681.5 V691.6 M167.5 681.5 V690.1 M169.2 681.5 V695.3 M170.9 681.5 V702.2 M172.6 681.5 V689.1 M174.3 681.5 V704.7 M176.0 681.5 V697.2 M177.7 681.5 V696.9 M179.4 681.5 V709.7 M181.1 681.5 V701.9 M182.8 681.5 V698.1 M184.5 681.5 V702.8 M186.2 681.5 V709.0 M187.9 681.5 V692.0 M189.6 681.5 V717.0 M191.3 681.5 V691.3 M193.0 681.5 V711.6 M194.7 681.5 V714.6 M196.4 681.5 V691.5 M198.1 681.5 V713.2 M199.8 681.5 V701.1 M201.5 681.5 V706.8 M203.2 681.5 V690.9 M204.9 681.5 V691.8 M206.6 681.5 V695.0 M208.3 681.5 V712.8 M210.0 681.5 V693.3 M211.7 681.5 V703.6 M213.4 681.5 V704.5 M215.1 681.5 V703.4 M216.8 681.5 V692.5 M218.5 681.5 V692.0 M220.2 681.5 V693.8 M221.9 681.5 V696.4 M223.6 681.5 V687.0 M225.3 681.5 V694.0 M227.0 681.5 V693.5 M228.7 681.5 V693.1 M230.4 681.5 V684.8 M232.1 681.5 V692.7 M233.8 681.5 V685.1 M235.5 681.5 V687.2 M237.2 681.5 V689.3 M238.9 681.5 V691.6 M240.6 681.5 V686.8 M242.3 681.5 V691.2 M244.0 681.5 V688.1 M245.7 681.5 V686.2 M247.4 681.5 V686.1 M249.1 681.5 V685.1 M250.8 681.5 V684.3 M252.5 681.5 V678.2 M254.2 681.5 V674.5 M255.9 681.5 V672.3 M257.6 681.5 V678.1 M259.3 681.5 V678.8 M261.0 681.5 V672.2 M262.7 681.5 V675.3 M264.4 681.5 V676.2 M266.1 681.5 V677.4 M267.8 681.5 V674.7 M269.5 681.5 V672.9 M271.2 681.5 V675.6 M272.9 681.5 V675.8 M274.6 681.5 V678.5 M276.3 681.5 V671.4 M278.0 681.5 V678.5 M279.7 681.5 V674.4 M281.4 681.5 V671.2 M283.1 681.5 V677.3 M284.8 681.5 V671.6 M286.5 681.5 V669.2 M288.2 681.5 V682.4 M289.9 681.5 V691.6 M291.6 681.5 V685.5 M293.3 681.5 V688.4 M295.0 681.5 V675.5 M296.7 681.5 V641.5 M298.4 681.5 V659.9 M300.1 681.5 V654.1 M301.8 681.5 V634.6 M303.5 681.5 V639.3 M305.2 681.5 V634.3 M306.9 681.5 V652.8 M308.6 681.5 V651.2 M310.3 681.5 V641.8" stroke="#cacaca" stroke-width="0.7" fill="none"/>
<defs><linearGradient id="zg" x1="0" y1="0" x2="0" y2="1"><stop offset="0" stop-color="#fff" stop-opacity="0"/><stop offset="0.5" stop-color="#fff" stop-opacity="0.9"/><stop offset="1" stop-color="#fff" stop-opacity="0"/></linearGradient></defs>
<rect x="90" y="663.5" width="222" height="36" fill="url(#zg)"/>
<line x1="90.6" y1="681.5" x2="311" y2="681.5" stroke="#e3e3e3" stroke-width="1"/>
<polyline points="91.5,674.8 92.6,674.9 93.7,676.1 94.8,676.0 95.9,678.1 96.9,678.0 97.9,679.8 98.9,681.8 100.0,681.7 101.0,684.1 102.0,684.8 103.0,685.5 104.1,686.0 105.1,686.3 106.2,686.1 107.2,687.9 108.3,686.9 109.5,689.1 110.6,689.7 111.8,688.8 113.1,695.0 114.4,701.3 115.8,705.0 117.1,706.7 118.3,704.7 119.4,701.2 120.6,699.2 121.7,699.7 122.7,699.5 123.8,698.5 124.8,699.9 125.9,699.4 126.9,698.7 127.9,696.4 128.9,695.9 130.0,694.5 131.0,692.6 132.0,691.1 133.0,689.6 134.7,679.4 135.9,680.3 137.1,683.8 138.3,684.4 139.5,681.1 140.6,679.7 141.8,677.3 143.0,678.6 144.1,682.0 145.3,681.9 146.4,683.0 147.4,681.5 148.5,679.9 149.5,679.6 150.6,679.1 151.8,676.9 153.0,676.8 154.2,675.1 155.5,666.2 156.8,656.1 158.2,666.6 159.5,677.7 160.8,678.9 162.1,679.5 163.2,676.6 164.3,674.0 165.4,671.9 166.5,669.5 167.5,668.8 168.5,668.3 169.5,666.1 170.6,666.4 171.6,665.2 172.6,665.8 173.6,665.3 174.6,666.1 175.6,667.6 176.6,667.1 177.6,669.1 178.6,669.6 179.6,669.7 180.6,672.3 181.7,668.0 182.8,666.7 183.9,664.7 185.0,662.6 186.2,656.4 187.3,648.4 188.5,642.1 189.7,639.9 190.9,639.4 192.1,637.8 193.3,640.1 194.4,640.8 195.6,642.7 196.9,644.8 198.2,649.1 199.6,657.7 200.9,663.1 202.1,662.2 203.2,659.9 204.4,657.6 205.5,659.4 206.6,661.5 207.7,664.7 208.8,665.4 209.9,666.8 211.0,667.2 212.1,667.8 213.2,667.7 214.6,660.5 215.9,656.0 217.0,655.8 218.1,657.8 219.2,659.1 220.3,659.5 221.5,661.0 222.6,664.4 223.8,665.6 224.8,664.3 225.9,663.7 226.9,662.7 227.9,661.6 229.0,660.2 230.0,658.7 231.0,660.5 232.1,660.6 233.1,662.2 234.1,661.9 235.2,663.3 236.2,665.9 237.3,665.2 238.4,666.4 239.5,666.4 240.6,668.7 241.7,668.5 242.8,668.7 243.9,669.9 245.0,672.1 246.0,671.4 247.0,669.4 248.0,671.1 249.1,668.8 250.1,669.3 251.1,669.0 252.1,669.2 253.1,667.1 254.1,667.8 255.1,665.8 256.2,666.1 257.2,665.8 258.2,664.3 259.2,662.2 260.2,664.3 261.2,664.4 262.2,665.7 263.2,666.4 264.2,665.6 265.2,667.2 266.2,668.0 267.2,667.8 268.3,666.2 269.3,665.3 270.3,664.8 271.4,662.5 272.4,663.2 273.4,663.5 274.5,664.5 275.5,664.3 276.5,666.0 277.6,666.6 278.6,667.1 279.6,667.8 280.6,666.7 281.6,665.0 282.6,663.2 283.6,664.3 284.6,661.5 285.6,661.5 286.8,663.7 288.0,666.4 289.2,668.0 290.4,671.2 291.5,674.2 292.7,678.5 294.0,685.6 295.3,692.1 296.6,691.3 298.0,689.9 299.1,686.0 300.1,682.3 301.2,679.5 302.2,678.6 303.3,674.2 304.5,668.4 305.6,660.0 306.8,653.0 308.1,655.5 309.5,659.6 311.2,662.4" fill="none" stroke="#1f3a56" stroke-width="2.9" stroke-linejoin="round" stroke-linecap="round"/>
<polyline points="91.5,673.6 92.6,675.3 93.7,673.9 94.8,676.0 95.9,676.2 96.9,678.3 97.9,678.3 98.9,680.6 100.0,680.0 101.0,683.0 102.0,682.9 103.0,683.5 104.1,684.2 105.1,685.2 106.2,684.2 107.2,685.3 108.3,684.8 109.5,685.9 110.6,687.0 111.8,688.0 113.1,693.9 114.4,700.7 115.8,703.0 117.1,707.0 118.3,704.1 119.4,701.2 120.6,698.4 121.7,697.7 122.7,698.1 123.8,698.8 124.8,698.2 125.9,697.5 126.9,696.8 127.9,695.3 128.9,693.1 130.0,691.3 131.0,690.0 132.0,689.6 133.0,688.4 134.7,678.3 135.9,679.0 137.1,679.3 138.3,680.4 139.5,679.5 140.6,676.9 141.8,674.4 143.0,675.5 144.1,677.2 145.3,679.1 146.4,678.3 147.4,678.6 148.5,677.2 149.5,677.0 150.6,676.0 151.8,674.8 153.0,673.8 154.2,672.4 155.5,661.3 156.8,653.4 158.2,663.8 159.5,674.3 160.8,675.7 162.1,679.0 163.2,676.0 164.3,672.1 165.4,670.5 166.5,668.2 167.5,667.5 168.5,667.3 169.5,666.0 170.6,665.8 171.6,664.0 172.6,664.8 173.6,663.1 174.6,665.3 175.6,666.5 176.6,666.2 177.6,666.4 178.6,667.3 179.6,669.2 180.6,669.2 181.7,668.3 182.8,665.8 183.9,663.4 185.0,661.6 186.2,653.4 187.3,647.0 188.5,639.0 189.7,639.2 190.9,638.9 192.1,636.6 193.3,639.0 194.4,640.8 195.6,640.5 196.9,643.8 198.2,647.5 199.6,656.2 200.9,662.1 202.1,661.2 203.2,657.7 204.4,656.5 205.5,659.0 206.6,661.1 207.7,661.8 208.8,664.8 209.9,664.7 211.0,666.4 212.1,665.6 213.2,665.8 214.6,660.1 215.9,653.3 217.0,654.5 218.1,656.4 219.2,656.4 220.3,657.0 221.5,661.0 222.6,661.8 223.8,665.4 224.8,663.9 225.9,662.5 226.9,661.5 227.9,660.2 229.0,659.6 230.0,658.1 231.0,658.2 232.1,660.1 233.1,660.8 234.1,662.8 235.2,662.0 236.2,663.8 237.3,665.7 238.4,664.5 239.5,666.7 240.6,667.8 241.7,668.0 242.8,667.5 243.9,669.8 245.0,669.5 246.0,669.7 247.0,670.0 248.0,668.5 249.1,668.0 250.1,667.3 251.1,667.4 252.1,666.5 253.1,667.1 254.1,666.6 255.1,664.2 256.2,664.4 257.2,664.3 258.2,663.5 259.2,661.6 260.2,662.8 261.2,663.8 262.2,664.0 263.2,665.7 264.2,666.1 265.2,666.9 266.2,665.7 267.2,664.6 268.3,664.9 269.3,664.0 270.3,662.5 271.4,661.5 272.4,661.8 273.4,662.7 274.5,661.9 275.5,663.0 276.5,665.2 277.6,665.4 278.6,665.7 279.6,666.6 280.6,664.4 281.6,662.9 282.6,662.8 283.6,661.9 284.6,661.5 285.6,660.9 286.8,661.4 288.0,664.4 289.2,667.4 290.4,669.7 291.5,673.8 292.7,677.1 294.0,684.4 295.3,691.5 296.6,688.6 298.0,688.8 299.1,684.4 300.1,681.6 301.2,679.2 302.2,676.5 303.3,674.2 304.5,666.6 305.6,660.4 306.8,653.0 308.1,655.4 309.5,657.2 311.2,661.2" fill="none" stroke="#c0504d" stroke-width="2.9" stroke-linejoin="round" stroke-linecap="round"/>
<line x1="90.6" y1="724.5" x2="311.2" y2="724.5" stroke="#111" stroke-width="1.3"/>
<line x1="90.6" y1="724.5" x2="90.6" y2="727.5" stroke="#111" stroke-width="1"/>
<line x1="131.7" y1="724.5" x2="131.7" y2="727.5" stroke="#111" stroke-width="1"/>
<line x1="172.8" y1="724.5" x2="172.8" y2="727.5" stroke="#111" stroke-width="1"/>
<line x1="213.9" y1="724.5" x2="213.9" y2="727.5" stroke="#111" stroke-width="1"/>
<line x1="255.0" y1="724.5" x2="255.0" y2="727.5" stroke="#111" stroke-width="1"/>
<line x1="296.1" y1="724.5" x2="296.1" y2="727.5" stroke="#111" stroke-width="1"/>
<text x="90.6" y="735.0" font-family="Liberation Serif, serif" font-size="11.02" fill="#262626" text-anchor="end" textLength="30.3" lengthAdjust="spacingAndGlyphs" transform="rotate(-45 90.6 735.0) translate(0 3.75)">15/4/8</text>
<text x="131.7" y="735.0" font-family="Liberation Serif, serif" font-size="11.02" fill="#262626" text-anchor="end" textLength="30.3" lengthAdjust="spacingAndGlyphs" transform="rotate(-45 131.7 735.0) translate(0 3.75)">16/4/8</text>
<text x="172.8" y="735.0" font-family="Liberation Serif, serif" font-size="11.02" fill="#262626" text-anchor="end" textLength="30.3" lengthAdjust="spacingAndGlyphs" transform="rotate(-45 172.8 735.0) translate(0 3.75)">17/4/8</text>
<text x="213.9" y="735.0" font-family="Liberation Serif, serif" font-size="11.02" fill="#262626" text-anchor="end" textLength="30.3" lengthAdjust="spacingAndGlyphs" transform="rotate(-45 213.9 735.0) translate(0 3.75)">18/4/8</text>
<text x="255.0" y="735.0" font-family="Liberation Serif, serif" font-size="11.02" fill="#262626" text-anchor="end" textLength="30.3" lengthAdjust="spacingAndGlyphs" transform="rotate(-45 255.0 735.0) translate(0 3.75)">19/4/8</text>
<text x="296.1" y="735.0" font-family="Liberation Serif, serif" font-size="11.02" fill="#262626" text-anchor="end" textLength="30.3" lengthAdjust="spacingAndGlyphs" transform="rotate(-45 296.1 735.0) translate(0 3.75)">20/4/8</text>
<line x1="130.3" y1="612.3" x2="156.8" y2="612.3" stroke="#1f3a56" stroke-width="2.3"/>
<line x1="130.3" y1="628.6" x2="156.8" y2="628.6" stroke="#c0504d" stroke-width="2.3"/>
<text x="158.3" y="615.8" font-family="Liberation Serif, serif" font-size="10.4" fill="#262626" textLength="123" lengthAdjust="spacingAndGlyphs">期货收盘价(活跃合约):铝</text>
<text x="158.3" y="632.1" font-family="Liberation Serif, serif" font-size="10.4" fill="#262626" textLength="138.8" lengthAdjust="spacingAndGlyphs">长江有色市场:平均价:铝:A00</text>
<text x="62.0" y="780.0" font-family="Liberation Serif, serif" font-size="9.4" fill="#262626" textLength="91.5" lengthAdjust="spacingAndGlyphs">数据来源：Wind 资讯</text>
<text x="398.8" y="567.0" font-family="Liberation Sans, sans-serif" font-size="11.3" font-weight="bold" fill="#000" stroke="#000" stroke-width="0.12" textLength="129.9" lengthAdjust="spacing">国内氧化铝价格小幅回落</text>
<text x="398.8" y="597.3" font-family="Liberation Serif, serif" font-size="10.3" fill="#262626" textLength="25.6" lengthAdjust="spacingAndGlyphs">元/吨</text>
<text x="411.5" y="608.4" font-family="Liberation Serif, serif" font-size="11.02" fill="#262626" text-anchor="end" textLength="20.0" lengthAdjust="spacingAndGlyphs">4500</text>
<text x="411.5" y="627.4" font-family="Liberation Serif, serif" font-size="11.02" fill="#262626" text-anchor="end" textLength="20.0" lengthAdjust="spacingAndGlyphs">4000</text>
<text x="411.5" y="646.4" font-family="Liberation Serif, serif" font-size="11.02" fill="#262626" text-anchor="end" textLength="20.0" lengthAdjust="spacingAndGlyphs">3500</text>
<text x="411.5" y="665.4" font-family="Liberation Serif, serif" font-size="11.02" fill="#262626" text-anchor="end" textLength="20.0" lengthAdjust="spacingAndGlyphs">3000</text>
<text x="411.5" y="684.4" font-family="Liberation Serif, serif" font-size="11.02" fill="#262626" text-anchor="end" textLength="20.0" lengthAdjust="spacingAndGlyphs">2500</text>
<text x="411.5" y="703.4" font-family="Liberation Serif, serif" font-size="11.02" fill="#262626" text-anchor="end" textLength="20.0" lengthAdjust="spacingAndGlyphs">2000</text>
<text x="411.5" y="722.4" font-family="Liberation Serif, serif" font-size="11.02" fill="#262626" text-anchor="end" textLength="20.0" lengthAdjust="spacingAndGlyphs">1500</text>
<polyline points="425.3,688.6 426.5,689.5 427.6,690.4 428.8,691.5 429.9,690.8 430.9,690.7 432.0,690.9 433.0,690.5 434.1,690.2 435.3,689.3 436.5,688.4 437.7,687.4 438.8,687.5 439.8,687.4 440.9,686.8 441.9,686.4 443.0,685.7 444.2,680.5 445.3,674.9 446.5,670.2 447.6,670.2 448.7,670.7 449.8,671.8 450.9,671.6 451.9,672.4 453.0,672.2 454.0,672.5 455.0,672.5 456.1,672.2 457.1,672.9 458.3,673.3 459.4,674.3 460.6,674.9 461.7,675.5 462.8,676.5 463.9,676.8 465.0,677.9 466.1,679.7 467.2,681.1 468.3,681.9 469.4,682.9 470.4,683.9 471.4,684.4 472.4,685.3 473.5,686.4 474.5,687.2 475.5,687.4 476.5,688.6 477.6,688.9 478.6,689.2 479.7,689.3 480.7,689.9 481.8,689.9 482.9,691.2 484.0,691.8 485.1,692.5 486.2,692.9 487.2,697.0 488.3,699.9 489.3,703.3 490.3,707.0 491.4,711.1 492.4,713.9 493.4,714.6 494.4,714.9 495.4,714.9 496.5,714.7 497.5,714.8 498.5,715.3 499.5,715.3 500.6,713.0 501.7,709.9 502.8,707.9 503.9,705.6 505.0,704.5 506.1,703.8 507.2,703.7 508.3,702.8 509.4,702.6 510.4,702.7 511.5,702.5 512.5,702.4 513.6,702.3 514.7,703.5 515.7,704.1 516.8,705.7 517.8,706.7 518.9,707.2 520.0,706.0 521.0,705.8 522.1,704.7 523.1,704.2 524.2,703.2 525.5,696.5 526.8,689.1 528.5,674.8 529.6,672.2 530.7,670.0 531.8,667.9 532.9,665.1 533.9,665.1 535.0,664.9 536.0,664.5 537.0,663.9 538.1,663.7 539.1,663.6 540.3,666.2 541.5,668.2 542.7,670.9 543.8,674.3 544.8,678.3 545.9,682.9 546.9,687.0 548.0,690.6 549.2,685.8 550.3,680.9 551.5,676.3 552.7,677.8 553.8,679.4 555.0,680.5 556.2,682.1 557.3,682.8 558.5,683.8 559.7,670.3 560.9,657.7 562.1,644.2 563.2,641.9 564.3,640.0 565.4,637.4 566.5,634.8 567.7,639.9 568.8,644.8 570.0,648.7 571.4,660.4 572.7,670.9 573.8,670.2 574.9,670.3 576.0,670.2 577.1,669.5 578.2,670.8 579.3,672.8 580.4,673.6 581.5,675.7 582.7,668.5 583.8,661.9 585.0,655.0 586.2,657.1 587.4,659.4 588.6,662.3 589.7,665.5 590.8,668.8 591.9,672.6 593.0,676.3 594.3,670.6 595.6,666.0 596.8,660.7 598.0,656.3 599.2,650.5 600.4,651.3 601.5,651.1 602.7,651.0 604.0,655.0 605.3,658.8 606.6,658.5 608.0,657.7 609.2,660.5 610.3,663.4 611.5,666.1 612.6,666.7 613.7,667.9 614.8,668.9 615.9,669.8 616.9,669.9 618.0,671.3 619.0,671.9 620.0,673.5 621.1,674.2 622.1,674.9 623.2,670.9 624.3,666.5 625.4,662.0 626.5,658.4 627.7,658.9 628.8,660.2 630.0,661.8 631.1,667.1 632.2,672.9 633.4,678.6 634.5,683.9 635.6,683.6 636.6,682.1 637.7,681.8 638.8,681.0 639.9,679.7 641.0,679.1 642.0,677.5 643.1,677.4 644.1,678.4 645.1,679.8 646.1,681.9 647.1,682.9 648.2,683.0 649.4,683.3 650.5,684.5 651.6,684.3 652.6,684.0 653.7,682.7 654.7,682.6 655.7,682.0 656.8,680.6 657.8,680.3 658.9,684.4 660.0,687.7 661.2,692.0 662.3,696.5 663.4,695.7 664.5,694.6 665.6,693.8 666.7,692.5 667.8,691.3 668.9,689.4 669.9,687.1 671.0,684.7 672.1,682.6 673.2,684.9 674.3,686.7 675.7,686.5" fill="none" stroke="#1f3a56" stroke-width="3.2" stroke-linejoin="round" stroke-linecap="round"/>
<polyline points="425.3,680.6 426.4,680.8 427.5,679.9 428.6,680.5 429.7,679.5 430.7,680.0 431.8,680.6 432.8,680.3 433.8,680.6 434.9,680.5 435.9,681.5 437.0,681.8 438.0,681.2 439.1,681.5 440.1,682.1 441.2,682.4 443.0,680.9 444.2,676.3 445.3,672.5 446.5,668.0 447.7,668.6 448.8,669.0 450.0,670.0 451.2,670.7 452.4,671.3 453.6,672.2 454.8,671.6 455.9,671.6 457.1,671.8 458.1,672.6 459.1,672.4 460.1,672.7 461.2,673.3 462.2,673.9 463.2,673.9 464.2,674.2 465.2,675.1 466.3,675.3 467.3,675.6 468.4,675.4 469.4,675.9 470.5,677.0 471.5,678.5 472.6,680.3 473.6,681.6 474.7,682.7 475.8,682.8 476.8,683.5 477.9,684.4 478.9,684.3 480.0,684.9 481.0,686.1 482.1,686.6 483.1,687.6 484.1,688.4 485.2,689.7 486.2,690.3 487.3,693.2 488.4,696.5 489.5,700.4 490.6,703.2 491.8,706.7 493.0,709.2 494.2,712.4 495.3,711.7 496.3,711.5 497.4,710.5 498.4,710.2 499.5,710.0 500.7,706.6 501.8,704.4 503.0,701.4 504.0,700.9 505.0,700.3 506.0,699.8 507.1,699.0 508.1,698.7 509.1,697.8 510.1,697.0 511.3,698.1 512.4,698.4 513.6,698.1 514.7,699.9 515.7,701.6 516.8,703.8 517.8,705.0 518.9,707.4 520.0,705.6 521.0,704.9 522.1,704.2 523.1,702.8 524.2,701.4 525.5,689.9 526.8,679.1 528.5,671.4 529.6,669.4 530.7,667.5 531.8,665.0 532.9,662.5 533.9,663.1 535.0,662.9 536.0,662.7 537.0,662.0 538.1,662.2 539.1,662.6 540.3,664.2 541.5,666.0 542.7,668.7 543.8,672.2 544.8,676.4 545.9,680.1 546.9,684.9 548.0,688.8 549.2,683.6 550.3,678.6 551.5,673.4 552.7,675.0 553.8,676.5 555.0,677.5 556.2,679.4 557.3,680.6 558.5,681.0 559.7,667.9 560.9,655.2 562.1,641.6 563.2,639.0 564.3,637.1 565.4,635.0 566.5,632.0 567.7,636.9 568.8,641.5 570.0,646.3 571.4,657.3 572.7,668.7 573.8,668.2 574.9,667.8 576.0,667.1 577.1,666.8 578.2,668.3 579.3,669.8 580.4,671.3 581.5,673.0 582.7,665.5 583.8,658.8 585.0,652.6 586.2,654.7 587.4,656.8 588.6,659.5 589.7,662.4 590.8,666.3 591.9,669.2 593.0,673.1 594.3,667.7 595.6,663.5 596.8,657.8 598.0,653.3 599.2,647.6 600.4,648.0 601.5,647.9 602.7,648.4 604.0,652.2 605.3,656.0 606.6,655.1 608.0,655.0 609.2,657.4 610.3,659.9 611.5,663.2 612.6,663.9 613.7,665.2 614.8,666.0 615.9,666.0 616.9,668.0 618.0,668.6 619.0,670.1 620.0,670.4 621.1,671.6 622.1,672.9 623.2,668.3 624.3,664.2 625.4,659.9 626.5,655.7 627.7,657.1 628.8,658.2 630.0,659.8 631.1,664.7 632.2,670.2 633.4,675.8 634.5,681.0 635.6,680.4 636.6,679.5 637.7,678.4 638.8,677.9 639.9,676.6 641.0,676.4 642.0,675.6 643.1,674.4 644.1,675.2 645.1,676.4 646.1,677.5 647.1,678.9 648.2,680.2 649.4,680.8 650.5,681.6 651.6,681.8 652.6,681.2 653.7,680.6 654.7,679.8 655.7,679.0 656.8,677.7 657.8,677.9 658.9,681.7 660.0,685.7 661.2,690.0 662.3,694.7 663.4,694.0 664.5,692.3 665.6,691.7 666.7,690.8 667.8,689.3 668.9,687.2 669.9,685.2 671.0,682.7 672.1,680.9 673.2,683.2 674.3,684.4 675.7,684.6" fill="none" stroke="#c0504d" stroke-width="3.2" stroke-linejoin="round" stroke-linecap="round"/>
<line x1="425.3" y1="717.3" x2="675.7" y2="717.3" stroke="#222" stroke-width="1.2"/>
<line x1="425.3" y1="717.3" x2="425.3" y2="720.3" stroke="#222" stroke-width="1"/>
<line x1="464.2" y1="717.3" x2="464.2" y2="720.3" stroke="#222" stroke-width="1"/>
<line x1="503.1" y1="717.3" x2="503.1" y2="720.3" stroke="#222" stroke-width="1"/>
<line x1="542.0" y1="717.3" x2="542.0" y2="720.3" stroke="#222" stroke-width="1"/>
<line x1="580.9" y1="717.3" x2="580.9" y2="720.3" stroke="#222" stroke-width="1"/>
<line x1="619.8" y1="717.3" x2="619.8" y2="720.3" stroke="#222" stroke-width="1"/>
<line x1="658.7" y1="717.3" x2="658.7" y2="720.3" stroke="#222" stroke-width="1"/>
<text x="425.3" y="727.8" font-family="Liberation Serif, serif" font-size="11.02" fill="#262626" text-anchor="end" textLength="35.5" lengthAdjust="spacingAndGlyphs" transform="rotate(-45 425.3 727.8) translate(0 3.75)">14/3/17</text>
<text x="464.2" y="727.8" font-family="Liberation Serif, serif" font-size="11.02" fill="#262626" text-anchor="end" textLength="35.5" lengthAdjust="spacingAndGlyphs" transform="rotate(-45 464.2 727.8) translate(0 3.75)">15/3/17</text>
<text x="503.1" y="727.8" font-family="Liberation Serif, serif" font-size="11.02" fill="#262626" text-anchor="end" textLength="35.5" lengthAdjust="spacingAndGlyphs" transform="rotate(-45 503.1 727.8) translate(0 3.75)">16/3/17</text>
<text x="542.0" y="727.8" font-family="Liberation Serif, serif" font-size="11.02" fill="#262626" text-anchor="end" textLength="35.5" lengthAdjust="spacingAndGlyphs" transform="rotate(-45 542.0 727.8) translate(0 3.75)">17/3/17</text>
<text x="580.9" y="727.8" font-family="Liberation Serif, serif" font-size="11.02" fill="#262626" text-anchor="end" textLength="35.5" lengthAdjust="spacingAndGlyphs" transform="rotate(-45 580.9 727.8) translate(0 3.75)">18/3/17</text>
<text x="619.8" y="727.8" font-family="Liberation Serif, serif" font-size="11.02" fill="#262626" text-anchor="end" textLength="35.5" lengthAdjust="spacingAndGlyphs" transform="rotate(-45 619.8 727.8) translate(0 3.75)">19/3/17</text>
<text x="658.7" y="727.8" font-family="Liberation Serif, serif" font-size="11.02" fill="#262626" text-anchor="end" textLength="35.5" lengthAdjust="spacingAndGlyphs" transform="rotate(-45 658.7 727.8) translate(0 3.75)">20/3/17</text>
<line x1="465" y1="593.2" x2="491.5" y2="593.2" stroke="#1f3a56" stroke-width="3"/>
<line x1="465" y1="608.2" x2="491.5" y2="608.2" stroke="#c0504d" stroke-width="3"/>
<text x="494.2" y="597.3" font-family="Liberation Serif, serif" font-size="10.4" fill="#262626" textLength="142.9" lengthAdjust="spacingAndGlyphs">平均价:氧化铝:一级:广西百色</text>
<text x="494.2" y="612.3" font-family="Liberation Serif, serif" font-size="10.4" fill="#262626" textLength="121.7" lengthAdjust="spacingAndGlyphs">平均价:氧化铝:一级:山东</text>
<text x="419.1" y="780.0" font-family="Liberation Serif, serif" font-size="9.4" fill="#262626" textLength="91.5" lengthAdjust="spacingAndGlyphs">数据来源：Wind 资讯</text>
<text x="57.7" y="807.0" font-family="Liberation Sans, sans-serif" font-size="11.3" font-weight="bold" fill="#000" stroke="#000" stroke-width="0.12" textLength="106.1" lengthAdjust="spacing">氧化铝库存小幅回落</text>
<text x="58.2" y="841.2" font-family="Liberation Serif, serif" font-size="10.3" fill="#262626" textLength="20.3" lengthAdjust="spacingAndGlyphs">万吨</text>
<text x="68.3" y="858.7" font-family="Liberation Serif, serif" font-size="11.02" fill="#262626" text-anchor="end" textLength="14.9" lengthAdjust="spacingAndGlyphs">150</text>
<text x="68.3" y="878.2" font-family="Liberation Serif, serif" font-size="11.02" fill="#262626" text-anchor="end" textLength="14.9" lengthAdjust="spacingAndGlyphs">120</text>
<text x="68.3" y="897.7" font-family="Liberation Serif, serif" font-size="11.02" fill="#262626" text-anchor="end" textLength="9.7" lengthAdjust="spacingAndGlyphs">90</text>
<text x="68.3" y="917.2" font-family="Liberation Serif, serif" font-size="11.02" fill="#262626" text-anchor="end" textLength="9.7" lengthAdjust="spacingAndGlyphs">60</text>
<text x="68.3" y="936.7" font-family="Liberation Serif, serif" font-size="11.02" fill="#262626" text-anchor="end" textLength="9.7" lengthAdjust="spacingAndGlyphs">30</text>
<text x="68.3" y="956.2" font-family="Liberation Serif, serif" font-size="11.02" fill="#262626" text-anchor="end" textLength="4.6" lengthAdjust="spacingAndGlyphs">0</text>
<polyline points="82.4,910.0 84.1,911.7 85.7,914.4 87.4,915.2 88.7,916.3 90.1,915.1 91.4,914.6 92.7,912.2 94.5,910.3 96.2,908.3 98.8,901.5 100.3,902.3 101.8,904.8 103.3,905.3 105.0,911.1 106.8,915.8 108.3,916.8 109.7,918.2 111.2,920.3 112.6,916.2 113.9,913.9 115.6,920.0 116.5,910.2 118.0,913.4 119.4,914.3 120.9,917.1 122.7,917.2 124.4,916.5 125.8,917.5 127.2,919.0 128.7,921.0 130.1,923.7 131.5,925.0 133.2,922.4 135.0,919.6 136.8,921.2 138.6,922.2 140.3,919.8 142.1,918.4 143.4,918.5 144.8,918.7 146.1,918.9 147.4,919.0 148.7,919.8 150.1,918.9 151.4,918.8 152.7,919.4 154.4,916.1 156.2,913.8 158.0,914.0 159.8,914.1 162.4,910.1 164.2,910.1 165.9,908.5 167.2,909.8 168.6,911.3 169.9,912.1 171.2,910.9 172.6,911.6 173.9,912.6 175.7,914.4 177.4,915.3 178.9,915.3 180.3,914.9 181.8,914.8 183.6,921.3 185.4,920.7 187.5,917.5 189.1,923.9 190.7,929.7 192.1,931.0 193.6,930.6 195.0,931.8 196.3,931.9 197.7,933.0 199.1,934.6 200.4,934.3 201.8,934.8 203.3,934.3 204.7,934.7 206.2,934.8 207.7,933.4 209.2,933.7 210.7,932.0 212.2,931.4 213.5,931.9 214.9,931.8 216.2,932.2 217.6,931.6 218.9,931.2 220.2,932.1 221.6,931.5 222.9,932.0 224.3,933.1 225.7,933.6 227.2,934.4 228.6,934.3 230.0,934.4 231.4,934.4 232.7,934.9 234.0,934.7 235.3,934.6 236.6,935.6 237.9,936.1 239.5,933.8 241.1,933.0 242.4,932.3 243.8,931.6 245.2,932.5 246.5,930.5 248.1,927.3 249.7,923.6 251.8,932.8 253.2,932.3 254.5,934.0 255.8,932.5 257.2,933.5 258.5,933.0 259.9,933.0 261.2,931.5 262.5,930.8 263.9,930.1 265.2,928.3 266.5,926.0 267.9,924.8 269.5,923.8 271.1,923.9 272.7,924.0 274.3,923.3 275.6,924.0 276.9,921.8 278.2,921.2 279.5,922.3 280.8,920.7 282.4,915.2 284.0,911.9 285.6,909.9 287.2,909.9 289.3,915.5 290.9,910.4 292.5,905.7 293.8,908.7 295.1,910.1 296.4,914.0 297.7,916.3 299.0,918.9 300.4,920.6 301.9,920.7 303.3,920.8 304.9,919.3 306.5,919.3 307.9,917.1 309.4,916.7 310.8,916.8 312.4,916.1 314.0,915.4 315.6,914.1 317.2,912.9 318.6,913.3 320.1,910.8 321.5,910.6 322.9,909.9 324.4,906.2 325.8,905.4 327.2,905.6 328.7,906.4 330.1,907.1 332.2,909.9 333.8,909.1 335.4,906.8" fill="none" stroke="#1f3a56" stroke-width="3.0" stroke-linejoin="round" stroke-linecap="round"/>
<line x1="82.4" y1="951.4" x2="334.8" y2="951.4" stroke="#666" stroke-width="1.6"/>
<line x1="82.4" y1="951.4" x2="82.4" y2="954.5" stroke="#666" stroke-width="1"/>
<line x1="108.25" y1="951.4" x2="108.25" y2="954.5" stroke="#666" stroke-width="1"/>
<line x1="134.10000000000002" y1="951.4" x2="134.10000000000002" y2="954.5" stroke="#666" stroke-width="1"/>
<line x1="159.95000000000002" y1="951.4" x2="159.95000000000002" y2="954.5" stroke="#666" stroke-width="1"/>
<line x1="185.8" y1="951.4" x2="185.8" y2="954.5" stroke="#666" stroke-width="1"/>
<line x1="211.65" y1="951.4" x2="211.65" y2="954.5" stroke="#666" stroke-width="1"/>
<line x1="237.50000000000003" y1="951.4" x2="237.50000000000003" y2="954.5" stroke="#666" stroke-width="1"/>
<line x1="263.35" y1="951.4" x2="263.35" y2="954.5" stroke="#666" stroke-width="1"/>
<line x1="289.20000000000005" y1="951.4" x2="289.20000000000005" y2="954.5" stroke="#666" stroke-width="1"/>
<line x1="315.05" y1="951.4" x2="315.05" y2="954.5" stroke="#666" stroke-width="1"/>
<text x="82.4" y="961.9" font-family="Liberation Serif, serif" font-size="11.02" fill="#262626" text-anchor="end" textLength="35.5" lengthAdjust="spacingAndGlyphs" transform="rotate(-45 82.4 961.9) translate(0 3.75)">17/5/19</text>
<text x="108.2" y="961.9" font-family="Liberation Serif, serif" font-size="11.02" fill="#262626" text-anchor="end" textLength="35.5" lengthAdjust="spacingAndGlyphs" transform="rotate(-45 108.2 961.9) translate(0 3.75)">17/9/19</text>
<text x="134.1" y="961.9" font-family="Liberation Serif, serif" font-size="11.02" fill="#262626" text-anchor="end" textLength="35.5" lengthAdjust="spacingAndGlyphs" transform="rotate(-45 134.1 961.9) translate(0 3.75)">18/1/19</text>
<text x="160.0" y="961.9" font-family="Liberation Serif, serif" font-size="11.02" fill="#262626" text-anchor="end" textLength="35.5" lengthAdjust="spacingAndGlyphs" transform="rotate(-45 160.0 961.9) translate(0 3.75)">18/5/19</text>
<text x="185.8" y="961.9" font-family="Liberation Serif, serif" font-size="11.02" fill="#262626" text-anchor="end" textLength="35.5" lengthAdjust="spacingAndGlyphs" transform="rotate(-45 185.8 961.9) translate(0 3.75)">18/9/19</text>
<text x="211.7" y="961.9" font-family="Liberation Serif, serif" font-size="11.02" fill="#262626" text-anchor="end" textLength="35.5" lengthAdjust="spacingAndGlyphs" transform="rotate(-45 211.7 961.9) translate(0 3.75)">19/1/19</text>
<text x="237.5" y="961.9" font-family="Liberation Serif, serif" font-size="11.02" fill="#262626" text-anchor="end" textLength="35.5" lengthAdjust="spacingAndGlyphs" transform="rotate(-45 237.5 961.9) translate(0 3.75)">19/5/19</text>
<text x="263.4" y="961.9" font-family="Liberation Serif, serif" font-size="11.02" fill="#262626" text-anchor="end" textLength="35.5" lengthAdjust="spacingAndGlyphs" transform="rotate(-45 263.4 961.9) translate(0 3.75)">19/9/19</text>
<text x="289.2" y="961.9" font-family="Liberation Serif, serif" font-size="11.02" fill="#262626" text-anchor="end" textLength="35.5" lengthAdjust="spacingAndGlyphs" transform="rotate(-45 289.2 961.9) translate(0 3.75)">20/1/19</text>
<text x="315.1" y="961.9" font-family="Liberation Serif, serif" font-size="11.02" fill="#262626" text-anchor="end" textLength="35.5" lengthAdjust="spacingAndGlyphs" transform="rotate(-45 315.1 961.9) translate(0 3.75)">20/5/19</text>
<line x1="156.2" y1="834.1" x2="185" y2="834.1" stroke="#1f3a56" stroke-width="3"/>
<text x="186.5" y="838.5" font-family="Liberation Serif, serif" font-size="10.4" fill="#262626" textLength="84.6" lengthAdjust="spacingAndGlyphs">库存:氧化铝:合计</text>
<text x="50.4" y="1020.0" font-family="Liberation Serif, serif" font-size="9.4" fill="#262626" textLength="91.5" lengthAdjust="spacingAndGlyphs">数据来源：Wind 资讯</text>
<text x="398.8" y="807.0" font-family="Liberation Sans, sans-serif" font-size="11.3" font-weight="bold" fill="#000" stroke="#000" stroke-width="0.12" textLength="70.4" lengthAdjust="spacing">辅料价格平稳</text>
<text x="398.8" y="850.9" font-family="Liberation Serif, serif" font-size="10.3" fill="#262626" textLength="25.2" lengthAdjust="spacingAndGlyphs">元/吨</text>
<text x="416.8" y="867.8" font-family="Liberation Serif, serif" font-size="11.02" fill="#262626" text-anchor="end" textLength="25.1" lengthAdjust="spacingAndGlyphs">14000</text>
<text x="416.8" y="891.0" font-family="Liberation Serif, serif" font-size="11.02" fill="#262626" text-anchor="end" textLength="25.1" lengthAdjust="spacingAndGlyphs">11000</text>
<text x="416.8" y="914.2" font-family="Liberation Serif, serif" font-size="11.02" fill="#262626" text-anchor="end" textLength="20.0" lengthAdjust="spacingAndGlyphs">8000</text>
<text x="416.8" y="937.4" font-family="Liberation Serif, serif" font-size="11.02" fill="#262626" text-anchor="end" textLength="20.0" lengthAdjust="spacingAndGlyphs">5000</text>
<text x="416.8" y="960.6" font-family="Liberation Serif, serif" font-size="11.02" fill="#262626" text-anchor="end" textLength="20.0" lengthAdjust="spacingAndGlyphs">2000</text>
<polyline points="431.0,947.1 432.0,947.1 433.0,947.1 434.1,947.1 435.1,947.0 436.1,947.3 437.1,946.9 438.1,947.1 439.2,947.3 440.2,947.2 441.2,947.3 442.3,947.2 443.3,947.4 444.4,947.6 445.4,947.7 446.5,947.9 447.6,948.4 448.6,948.4 449.7,948.8 450.7,949.3 451.8,949.5 452.8,949.6 453.9,949.5 454.9,949.7 455.9,950.2 457.0,950.0 458.0,950.5 459.0,950.4 460.1,950.7 461.1,951.0 462.1,951.4 463.2,951.4 464.2,951.7 465.2,951.4 466.3,951.4 467.3,951.7 468.4,951.6 469.4,951.6 470.5,951.3 471.6,951.2 472.6,951.5 473.6,951.4 474.7,951.4 475.7,951.6 476.8,951.6 477.8,951.0 478.8,950.9 479.9,950.8 480.9,950.7 481.9,950.9 483.0,950.6 484.0,950.9 485.0,950.2 486.1,950.4 487.1,950.1 488.1,950.5 489.2,950.3 490.2,950.2 491.2,950.4 492.3,950.6 493.3,950.2 494.3,950.3 495.4,950.7 496.4,950.5 497.4,950.3 498.5,950.8 499.5,950.9 500.5,950.4 501.5,950.2 502.5,950.0 503.5,950.3 504.5,950.2 505.5,950.1 506.5,949.9 508.3,946.1 509.4,946.0 510.4,946.0 511.5,946.1 512.5,945.8 513.6,945.7 514.6,945.3 515.6,945.3 516.6,945.1 517.6,944.4 518.6,944.5 519.6,944.1 520.6,943.5 521.7,942.9 522.7,942.6 523.8,942.0 524.8,941.5 525.9,941.2 527.0,940.9 528.0,940.5 529.1,940.1 530.1,939.7 531.2,939.4 532.2,939.5 533.3,939.0 534.3,938.9 535.4,938.4 536.4,938.0 537.5,938.0 538.5,937.3 539.5,937.0 540.6,937.2 541.6,936.5 542.6,936.3 543.7,936.3 544.8,935.8 545.8,935.9 546.9,935.4 547.9,935.5 549.0,935.3 550.0,934.7 551.0,934.7 552.1,934.8 553.1,934.4 554.1,934.2 555.2,933.8 556.2,933.7 557.2,934.4 558.3,934.7 559.4,934.6 560.4,934.9 561.5,934.8 562.5,935.6 563.5,936.1 564.6,936.8 565.6,937.6 566.6,937.9 567.7,938.9 568.7,939.5 569.7,939.7 570.8,940.0 571.8,940.7 572.8,940.7 573.9,941.0 574.9,941.5 575.9,941.7 577.0,941.8 578.0,941.8 579.1,942.4 580.1,942.0 581.1,942.5 582.2,942.6 583.2,942.5 584.3,942.6 585.3,943.0 586.4,942.0 587.4,940.8 588.5,940.3 589.5,940.2 590.6,939.9 591.6,940.4 592.6,940.0 593.6,939.9 594.7,940.4 595.7,940.3 596.7,940.3 597.8,940.6 598.8,940.8 599.9,941.0 600.9,941.0 602.0,941.5 603.0,941.6 604.0,941.7 605.1,942.0 606.1,942.3 607.2,942.3 608.2,942.7 609.2,942.9 610.3,943.0 611.4,943.3 612.4,943.3 613.5,943.7 614.5,943.8 615.6,944.0 616.6,944.4 617.6,944.4 618.7,944.1 619.7,944.1 620.8,944.4 621.8,944.2 622.8,944.1 623.9,944.2 624.9,944.2 625.9,944.1 627.0,944.0 628.0,944.2 629.1,944.5 630.1,944.0 631.1,944.0 632.2,944.1 633.2,944.3 634.2,944.2 635.3,944.5 636.3,944.6 637.4,944.5 638.4,944.5 639.4,944.7 640.5,944.9 641.5,944.4 642.5,944.6 643.6,944.9 644.6,944.8 645.6,944.7 646.7,944.9 647.7,944.7 648.8,945.1 649.8,944.7 650.8,944.6 651.9,944.9 653.0,944.6 654.0,944.7 655.0,944.6 656.1,944.5 657.1,944.7 658.2,944.8 659.2,945.2 660.3,945.4 661.3,946.0 662.3,946.5 663.4,946.2 664.4,946.8 665.5,947.3 666.5,947.7 667.5,947.1 668.6,946.9 669.7,946.5 670.7,946.1 671.7,945.9 672.8,945.9 673.8,945.4 674.8,944.9" fill="none" stroke="#9bbb59" stroke-width="2.8" stroke-linejoin="round" stroke-linecap="round"/>
<polyline points="431.0,928.6 432.2,928.6 433.4,929.0 434.7,929.3 435.9,929.8 437.1,929.6 438.2,929.4 439.4,929.2 440.5,929.3 441.5,930.1 442.6,930.1 443.6,930.6 444.7,930.7 445.7,930.9 446.7,931.3 447.7,931.0 448.8,931.1 449.8,931.3 450.8,931.4 451.8,931.6 452.9,931.5 453.9,931.1 455.0,930.9 456.0,931.0 457.1,930.8 458.3,931.2 459.4,931.4 460.6,931.7 461.7,931.6 462.8,931.5 463.9,931.7 465.0,931.8 466.1,931.7 467.2,931.3 468.3,931.5 469.4,931.9 470.5,932.0 471.6,931.7 472.7,931.8 473.9,931.8 475.0,932.0 476.1,932.1 477.2,932.8 478.3,932.9 479.4,932.3 480.5,931.8 481.6,932.1 482.7,931.7 483.8,932.4 484.9,932.6 486.0,933.5 487.1,934.1 488.2,934.2 489.2,934.4 490.3,934.6 491.3,934.6 492.4,935.1 493.5,934.2 494.5,934.0 495.6,933.6 496.6,933.4 497.7,933.2 498.9,932.1 500.0,931.7 501.2,931.2 502.4,927.9 503.6,924.8 504.8,921.6 505.9,921.6 507.0,921.5 508.1,921.4 509.2,921.8 510.3,921.7 511.4,921.6 512.5,921.2 513.6,921.4 514.8,920.4 515.9,919.0 517.1,918.0 518.5,919.7 519.8,921.3 520.9,921.9 522.0,922.2 523.1,922.0 524.2,922.2 525.3,922.9 526.3,923.8 527.4,924.2 528.4,925.1 529.5,925.8 530.8,925.3 532.0,925.6 533.3,925.6 534.3,925.6 535.4,925.7 536.4,925.5 537.5,925.5 538.5,926.0 539.5,925.7 540.6,926.2 541.6,926.1 542.7,926.0 543.7,926.1 544.8,926.0 545.8,926.0 546.8,922.2 547.8,921.7 548.9,921.8 550.0,922.3 551.0,921.9 552.0,922.1 553.1,922.1 554.2,922.1 555.2,922.2 556.2,925.7 557.2,925.4 558.2,925.4 559.2,925.8 560.3,925.7 561.3,925.4 562.3,925.3 563.3,925.3 564.3,925.6 565.3,925.2 566.4,925.1 567.4,925.1 568.4,925.2 569.4,925.6 570.4,925.1 571.4,925.1 572.5,925.4 573.5,925.5 574.5,925.5 575.5,925.5 576.5,925.5 577.5,925.4 578.6,925.5 579.6,925.2 580.6,925.4 581.6,924.9 582.6,925.0 583.6,925.4 584.7,925.1 585.7,925.1 586.7,925.2 587.7,925.0 588.7,924.8 589.7,925.2 590.8,924.9 591.8,925.2 592.8,925.0 593.8,925.0 594.8,925.3 595.8,924.9 596.9,925.1 597.9,924.8 598.9,925.1 599.9,924.8 601.0,923.9 602.0,922.4 603.0,922.6 604.0,922.7 605.0,922.2 606.0,922.3 607.0,922.7 608.0,922.4 609.0,922.1 610.1,922.2 611.1,922.4 612.1,922.3 613.1,922.5 614.1,922.5 615.1,922.2 616.1,922.1 617.1,922.2 618.1,922.7 619.1,922.2 620.1,922.6 621.1,922.5 622.1,922.3 623.1,922.6 624.1,922.6 625.1,922.6 626.2,922.7 627.2,922.4 628.2,922.1 629.2,922.7 630.2,922.1 631.2,922.2 632.2,922.3 633.2,922.3 634.2,923.4 635.3,924.0 636.4,925.1 637.4,926.3 638.4,926.4 639.5,926.9 640.5,927.6 641.5,927.9 642.6,928.5 643.6,929.0 644.6,928.3 645.7,928.3 646.7,928.8 647.8,928.4 648.8,928.4 649.8,928.1 650.9,928.5 651.9,928.2 653.0,927.4 654.0,926.8 655.0,926.8 656.1,926.4 657.1,926.9 658.2,926.9 659.2,926.9 660.2,927.0 661.3,927.1 662.3,926.8 663.4,927.1 664.4,926.9 665.5,927.2 666.5,927.1 667.5,928.4 668.6,929.8 669.6,929.5 670.7,929.6 671.7,929.5 672.7,929.5 673.8,929.6 674.8,929.7" fill="none" stroke="#1f3a56" stroke-width="2.8" stroke-linejoin="round" stroke-linecap="round"/>
<polyline points="431.0,922.4 432.2,922.4 433.4,922.7 434.7,922.1 435.9,922.3 437.1,921.4 438.2,921.3 439.4,920.4 440.5,920.4 441.5,920.9 442.6,920.2 443.6,920.3 444.7,920.4 445.8,921.2 446.8,921.3 447.9,921.8 448.9,922.4 450.0,922.2 451.8,923.3 452.9,922.7 453.9,922.8 455.0,921.8 456.0,922.1 457.1,921.4 458.3,922.2 459.4,922.4 460.6,923.6 461.7,923.0 462.8,923.0 463.9,923.3 465.0,922.9 466.1,922.6 467.2,922.4 468.3,922.8 469.4,922.6 470.5,922.6 471.6,922.7 472.7,923.1 473.9,922.6 475.0,922.9 476.1,923.3 477.2,923.3 478.3,923.4 479.5,923.0 480.6,922.4 481.8,922.0 482.9,922.4 483.9,923.2 485.0,923.1 486.0,923.6 487.1,924.1 488.2,924.2 489.2,924.9 490.3,925.1 491.3,925.0 492.4,925.4 493.4,925.9 494.4,925.4 495.4,925.7 496.5,925.5 497.5,925.3 498.5,926.0 499.5,925.7 500.7,923.5 501.8,921.8 503.0,919.6 504.2,919.0 505.3,917.4 506.5,916.7 507.6,916.9 508.6,917.0 509.7,916.5 510.7,916.4 511.8,916.8 513.6,910.1 514.8,908.8 515.9,907.3 517.1,906.3 518.3,905.2 519.4,903.6 520.6,902.5 521.7,901.6 522.7,901.8 523.8,901.6 524.8,901.3 525.9,900.9 526.9,901.6 528.0,902.0 529.0,902.3 530.0,903.3 531.1,902.2 532.2,901.7 533.3,901.9 534.3,903.4 535.4,904.5 536.4,905.8 537.4,906.1 538.5,905.6 539.5,905.8 540.6,906.1 541.6,905.9 542.7,898.8 543.7,898.6 544.8,898.3 545.8,898.6 546.8,880.1 547.8,879.8 548.9,879.9 549.9,879.7 551.0,879.4 552.0,879.6 553.1,879.5 554.1,878.9 555.1,878.7 556.2,878.6 557.2,878.9 558.3,878.8 559.4,878.5 560.4,878.7 561.4,878.4 562.5,878.6 563.5,878.9 564.5,879.4 565.6,879.5 566.6,880.1 567.7,894.2 568.7,895.4 569.8,896.1 570.8,896.7 571.8,897.9 572.8,899.7 573.9,901.9 575.0,899.9 576.0,897.7 577.0,897.3 578.1,897.1 579.1,897.5 580.1,896.9 581.2,897.2 582.2,896.6 583.2,896.4 584.3,896.9 585.3,896.5 586.3,890.9 587.4,886.0 588.5,885.6 589.5,885.5 590.5,885.4 591.6,885.2 592.7,885.1 593.7,885.0 594.7,883.9 595.8,883.3 596.8,883.3 597.8,883.5 598.8,884.1 599.9,884.2 600.9,884.8 602.0,878.1 603.0,878.5 604.1,878.9 605.1,879.5 606.2,879.7 607.2,879.8 608.2,891.6 609.2,893.7 610.3,895.7 611.4,897.2 612.4,899.4 613.5,901.7 614.5,904.4 615.5,903.6 616.6,901.6 617.6,900.7 618.6,900.5 619.7,901.5 620.7,901.2 621.8,895.5 622.8,895.4 623.9,894.6 624.9,894.4 626.0,894.4 627.0,894.0 628.0,894.1 629.1,893.9 630.1,894.2 631.1,894.3 632.2,894.1 633.2,894.3 634.3,894.4 635.3,894.1 636.3,896.2 637.4,897.7 638.4,899.7 639.5,904.2 640.5,909.2 641.5,909.0 642.6,909.5 643.6,909.3 644.7,909.8 645.7,909.8 646.7,909.5 647.8,909.4 648.8,909.8 649.9,909.4 650.9,909.3 652.0,905.1 653.0,900.8 654.0,899.5 655.1,899.1 656.1,898.7 657.1,899.6 658.2,900.8 659.2,902.7 660.2,903.7 661.2,905.7 662.3,906.8 663.4,908.9 664.4,910.8 665.5,912.1 666.5,914.3 667.5,913.6 668.6,913.3 669.7,912.7 670.7,912.2 671.7,912.3 672.8,912.1 673.8,912.1 674.8,911.6" fill="none" stroke="#c0504d" stroke-width="2.8" stroke-linejoin="round" stroke-linecap="round"/>
<line x1="431" y1="956.2" x2="675.2" y2="956.2" stroke="#333" stroke-width="1.2"/>
<line x1="431.0" y1="956.2" x2="431.0" y2="959.2" stroke="#333" stroke-width="1"/>
<line x1="476.95" y1="956.2" x2="476.95" y2="959.2" stroke="#333" stroke-width="1"/>
<line x1="522.9" y1="956.2" x2="522.9" y2="959.2" stroke="#333" stroke-width="1"/>
<line x1="568.85" y1="956.2" x2="568.85" y2="959.2" stroke="#333" stroke-width="1"/>
<line x1="614.8" y1="956.2" x2="614.8" y2="959.2" stroke="#333" stroke-width="1"/>
<line x1="660.75" y1="956.2" x2="660.75" y2="959.2" stroke="#333" stroke-width="1"/>
<text x="431.0" y="966.7" font-family="Liberation Serif, serif" font-size="11.02" fill="#262626" text-anchor="end" textLength="35.5" lengthAdjust="spacingAndGlyphs" transform="rotate(-45 431.0 966.7) translate(0 3.75)">15/4/30</text>
<text x="476.9" y="966.7" font-family="Liberation Serif, serif" font-size="11.02" fill="#262626" text-anchor="end" textLength="35.5" lengthAdjust="spacingAndGlyphs" transform="rotate(-45 476.9 966.7) translate(0 3.75)">16/4/30</text>
<text x="522.9" y="966.7" font-family="Liberation Serif, serif" font-size="11.02" fill="#262626" text-anchor="end" textLength="35.5" lengthAdjust="spacingAndGlyphs" transform="rotate(-45 522.9 966.7) translate(0 3.75)">17/4/30</text>
<text x="568.9" y="966.7" font-family="Liberation Serif, serif" font-size="11.02" fill="#262626" text-anchor="end" textLength="35.5" lengthAdjust="spacingAndGlyphs" transform="rotate(-45 568.9 966.7) translate(0 3.75)">18/4/30</text>
<text x="614.8" y="966.7" font-family="Liberation Serif, serif" font-size="11.02" fill="#262626" text-anchor="end" textLength="35.5" lengthAdjust="spacingAndGlyphs" transform="rotate(-45 614.8 966.7) translate(0 3.75)">19/4/30</text>
<text x="660.8" y="966.7" font-family="Liberation Serif, serif" font-size="11.02" fill="#262626" text-anchor="end" textLength="35.5" lengthAdjust="spacingAndGlyphs" transform="rotate(-45 660.8 966.7) translate(0 3.75)">20/4/30</text>
<line x1="419.1" y1="833.8" x2="446.5" y2="833.8" stroke="#1f3a56" stroke-width="3"/>
<line x1="419.1" y1="849.1" x2="446.5" y2="849.1" stroke="#c0504d" stroke-width="3"/>
<line x1="419.1" y1="865" x2="446.5" y2="865" stroke="#9bbb59" stroke-width="3"/>
<text x="449.2" y="838.0" font-family="Liberation Serif, serif" font-size="10.4" fill="#262626" textLength="172.8" lengthAdjust="spacingAndGlyphs">市场价(含税):冰晶石(电解铝用辅料)</text>
<text x="449.2" y="852.7" font-family="Liberation Serif, serif" font-size="10.4" fill="#262626" textLength="194.8" lengthAdjust="spacingAndGlyphs">市场价(含税):干法氟化铝(电解铝用辅料)</text>
<text x="449.2" y="868.1" font-family="Liberation Serif, serif" font-size="10.4" fill="#262626" textLength="236" lengthAdjust="spacingAndGlyphs">市场价(含税):预焙阳极(电解铝用辅料):西北地区</text>
<text x="406.6" y="1020.0" font-family="Liberation Serif, serif" font-size="9.4" fill="#262626" textLength="91.5" lengthAdjust="spacingAndGlyphs">数据来源：Wind 资讯</text>
<text x="451.1" y="1083.0" font-family="Liberation Serif, serif" font-size="12" fill="#4b5b7b" textLength="191.7" lengthAdjust="spacingAndGlyphs">请务必阅读正文之后的免责条款部分</text>
</svg></body></html>
